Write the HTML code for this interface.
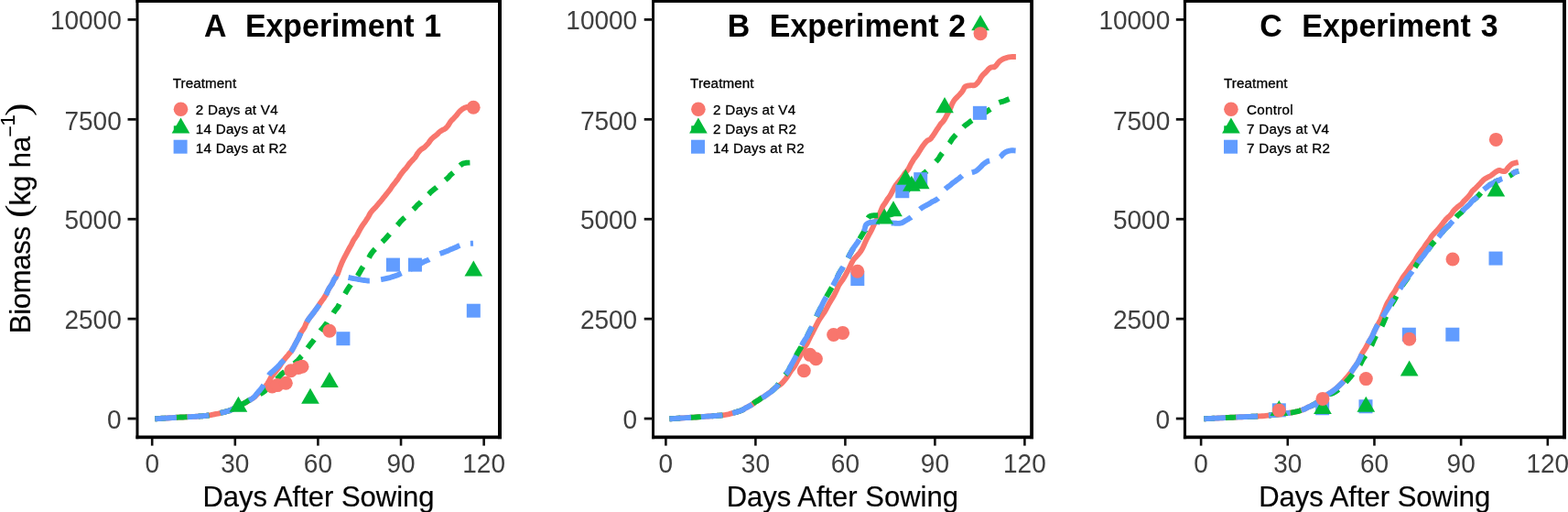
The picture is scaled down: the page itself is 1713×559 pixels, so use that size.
<!DOCTYPE html>
<html lang="en"><head><meta charset="utf-8"><title>Biomass by Days After Sowing</title>
<style>
html,body{margin:0;padding:0;background:#fff;}
body{width:1713px;height:559px;overflow:hidden;}
svg{display:block;font-family:"Liberation Sans",sans-serif;}
.tick{font-size:28px;fill:#3f3f3f;}
.atitle{font-size:31px;fill:#000;stroke:#000;stroke-width:0.2px;}
.ptitle{font-size:33.9px;font-weight:bold;fill:#000;word-spacing:1.4px;}
.ltitle{font-size:15.2px;fill:#000;letter-spacing:0.1px;stroke:#000;stroke-width:0.3px;}
.ltext{font-size:15.2px;fill:#000;letter-spacing:0.28px;stroke:#000;stroke-width:0.3px;}
.ln{fill:none;stroke-width:5.9;stroke-linejoin:round;stroke-linecap:butt;}
</style></head><body>
<svg width="1713" height="559" viewBox="0 0 1713 559" role="img" aria-label="Biomass versus days after sowing for three experiments">
<rect x="0" y="0" width="1713" height="559" fill="#ffffff"/>
<g>
<path class="ln" d="M169.30 457.30 L170.77 457.21 L172.59 457.09 L174.69 456.95 L176.98 456.79 L179.80 456.62 L182.77 456.44 L185.41 456.27 L187.94 456.10 L190.54 455.94 L192.92 455.80 L194.89 455.68 L197.17 455.56 L199.83 455.45 L202.11 455.35 L204.22 455.24 L206.46 455.14 L208.88 455.04 L210.59 454.93 L212.42 454.82 L214.32 454.70 L215.95 454.58 L217.50 454.46 L219.37 454.35 L221.12 454.23 L222.36 454.11 L223.56 453.98 L224.90 453.84 L226.29 453.68 L227.66 453.50 L229.06 453.30 L230.36 453.07 L231.44 452.82 L232.76 452.55 L234.55 452.26 L236.29 451.96 L237.91 451.65 L239.38 451.33 L240.45 451.02 L241.48 450.70 L242.96 450.40 L244.33 450.11 L245.41 449.84 L246.22 449.57 L247.00 449.30 L247.94 449.03 L249.09 448.74 L250.25 448.43 L251.34 448.10 L252.08 447.72 L252.87 447.30 L253.79 446.83 L254.98 446.31 L256.21 445.76 L257.46 445.17 L258.74 444.56 L259.99 443.94 L261.09 443.32 L262.18 442.70 L263.28 442.09 L264.39 441.50 L265.47 440.93 L266.56 440.38 L267.66 439.83 L268.73 439.28 L269.63 438.73 L270.47 438.18 L271.30 437.61 L272.35 437.03 L273.47 436.43 L274.56 435.80 L275.61 435.15 L276.61 434.49 L277.59 433.82 L278.51 433.13 L279.16 432.43 L279.81 431.72 L280.45 430.98 L281.20 430.24 L282.03 429.48 L282.86 428.70 L283.68 427.91 L284.62 427.12 L285.55 426.32 L286.48 425.51 L287.38 424.68 L288.18 423.82 L288.98 422.94 L289.78 422.03 L290.56 421.08 L291.29 420.10 L292.01 419.07 L292.73 417.98 L293.41 416.86 L294.04 415.70 L294.66 414.52 L295.29 413.33 L296.03 412.13 L296.93 410.94 L297.83 409.76 L298.76 408.60 L299.69 407.45 L300.63 406.29 L301.60 405.13 L302.56 403.97 L303.42 402.81 L304.29 401.65 L305.14 400.51 L305.86 399.39 L306.52 398.28 L307.15 397.20 L307.78 396.13 L308.63 395.07 L309.48 394.01 L310.30 392.96 L311.12 391.94 L311.96 390.93 L312.79 389.95 L313.60 389.00 L314.39 388.08 L315.07 387.20 L315.67 386.42 L316.22 385.76 L316.72 385.19 L317.21 384.66 L317.68 384.13 L318.12 383.56 L318.59 382.90 L319.09 382.12 L319.65 381.17 L320.28 380.00 L321.07 378.58 L321.94 376.93 L322.88 375.10 L323.94 373.14 L325.05 371.10 L326.16 369.03 L327.09 366.99 L327.97 365.02 L328.80 363.17 L329.90 361.50 L330.92 360.00 L331.84 358.62 L332.69 357.34 L333.21 356.11 L333.70 354.93 L334.20 353.76 L334.73 352.58 L335.34 351.36 L336.13 350.08 L337.02 348.70 L338.03 347.22 L339.21 345.66 L340.50 344.04 L341.81 342.38 L343.06 340.71 L344.30 339.05 L345.50 337.41 L346.65 335.83 L347.70 334.32 L348.62 332.90 L349.42 331.61 L350.14 330.43 L350.98 329.34 L351.77 328.30 L352.53 327.29 L353.29 326.27 L354.03 325.21 L354.70 324.08 L355.44 322.86 L356.25 321.50 L357.12 319.95 L357.87 318.20 L358.69 316.31 L359.78 314.34 L361.16 312.36 L362.51 310.41 L363.43 308.58 L364.21 306.90 L364.87 305.46 L365.59 304.30 L366.19 303.52 L366.52 303.11 L366.66 302.98 L366.67 303.02 L366.67 303.14 L366.67 303.24 L366.67 303.24 L366.67 303.03 L366.89 302.51 L367.41 301.60 L368.15 300.29 L369.04 298.67 L369.70 296.80 L370.43 294.75 L371.21 292.55 L372.09 290.27 L373.05 287.96 L374.02 285.68 L375.04 283.47 L376.10 281.40 L377.17 279.40 L378.24 277.38 L379.28 275.34 L380.35 273.31 L381.47 271.29 L382.61 269.31 L383.71 267.36 L384.64 265.47 L385.53 263.64 L386.46 261.90 L387.63 260.24 L388.76 258.65 L389.84 257.13 L390.61 255.66 L391.34 254.24 L392.05 252.84 L392.78 251.47 L393.56 250.12 L394.35 248.76 L395.15 247.40 L396.07 246.02 L397.07 244.63 L398.08 243.24 L399.08 241.87 L399.96 240.51 L400.82 239.19 L401.67 237.92 L402.44 236.71 L403.02 235.56 L403.58 234.50 L404.11 233.52 L404.64 232.63 L405.26 231.81 L405.86 231.04 L406.44 230.32 L407.00 229.63 L407.59 228.97 L408.26 228.32 L408.91 227.66 L409.56 227.00 L410.20 226.34 L410.82 225.70 L411.34 225.08 L411.83 224.48 L412.31 223.89 L412.79 223.31 L413.25 222.74 L413.72 222.16 L414.24 221.59 L414.77 221.00 L415.28 220.43 L415.73 219.91 L416.17 219.40 L416.59 218.90 L417.01 218.39 L417.43 217.86 L417.87 217.29 L418.36 216.67 L418.92 215.98 L419.55 215.20 L420.25 214.33 L420.98 213.39 L421.76 212.38 L422.59 211.33 L423.46 210.22 L424.38 209.09 L425.31 207.95 L426.20 206.79 L426.96 205.64 L427.70 204.50 L428.42 203.37 L429.30 202.23 L430.24 201.08 L431.17 199.91 L432.10 198.74 L432.98 197.55 L433.87 196.36 L434.78 195.15 L435.60 193.93 L436.38 192.70 L437.19 191.44 L438.09 190.12 L439.12 188.78 L440.16 187.41 L441.27 186.05 L442.50 184.70 L443.71 183.39 L444.78 182.12 L445.62 180.92 L446.41 179.80 L447.17 178.76 L448.01 177.78 L448.82 176.86 L449.62 175.99 L450.39 175.15 L451.18 174.34 L451.94 173.55 L452.67 172.77 L453.39 171.99 L453.95 171.20 L454.47 170.40 L454.96 169.60 L455.42 168.80 L455.86 168.01 L456.39 167.24 L456.97 166.49 L457.54 165.78 L458.12 165.10 L458.70 164.47 L459.31 163.90 L459.82 163.41 L460.28 163.00 L460.74 162.67 L461.20 162.38 L461.66 162.11 L462.13 161.84 L462.63 161.54 L463.15 161.20 L463.68 160.80 L464.22 160.30 L464.79 159.70 L465.46 159.01 L466.20 158.26 L466.95 157.46 L467.70 156.64 L468.41 155.82 L468.95 155.01 L469.47 154.24 L469.96 153.53 L470.42 152.90 L470.84 152.35 L471.33 151.88 L471.77 151.45 L472.18 151.06 L472.58 150.69 L472.99 150.32 L473.42 149.95 L473.90 149.54 L474.45 149.10 L475.10 148.60 L475.85 148.03 L476.70 147.39 L477.61 146.71 L478.27 146.00 L478.91 145.28 L479.56 144.57 L480.31 143.89 L481.28 143.26 L482.17 142.69 L482.96 142.20 L483.64 141.83 L484.10 141.58 L484.47 141.41 L484.81 141.29 L485.13 141.19 L485.46 141.07 L485.79 140.91 L486.17 140.66 L486.61 140.31 L487.17 139.80 L487.82 139.14 L488.52 138.36 L489.26 137.47 L489.94 136.51 L490.54 135.49 L491.15 134.44 L491.77 133.38 L492.63 132.34 L493.57 131.34 L494.49 130.40 L495.40 129.49 L496.26 128.56 L497.11 127.62 L497.97 126.68 L498.82 125.76 L499.50 124.87 L500.17 124.02 L500.81 123.21 L501.43 122.47 L502.07 121.80 L502.68 121.20 L503.25 120.66 L503.79 120.18 L504.31 119.74 L504.82 119.35 L505.33 118.99 L505.85 118.66 L506.39 118.36 L506.94 118.07 L507.53 117.80 L508.14 117.55 L508.79 117.32 L509.47 117.13 L510.15 116.96 L510.87 116.82 L511.63 116.70 L512.37 116.60 L513.06 116.52 L513.70 116.45 L514.19 116.40 L514.61 116.38 L515.00 116.39 L515.37 116.43 L515.72 116.49 L516.04 116.56 L516.33 116.64 L516.59 116.73 L516.82 116.80 L517.02 116.86 L517.20 116.90" stroke="#F8766D"/>
<path class="ln" d="M169.30 457.30 L170.77 457.21 L172.59 457.09 L174.69 456.95 L176.98 456.79 L179.80 456.62 L182.77 456.44 L185.41 456.27 L187.94 456.10 L190.54 455.94 L192.92 455.80 L194.89 455.68 L197.17 455.56 L199.83 455.45 L202.11 455.35 L204.22 455.24 L206.46 455.14 L208.88 455.04 L210.59 454.93 L212.42 454.82 L214.32 454.70 L215.95 454.58 L217.50 454.46 L219.37 454.35 L221.12 454.23 L222.36 454.11 L223.56 453.98 L224.90 453.84 L226.29 453.68 L227.66 453.50 L229.06 453.30 L230.36 453.07 L231.44 452.82 L232.76 452.55 L234.55 452.26 L236.29 451.96 L237.91 451.65 L239.38 451.33 L240.45 451.02 L241.48 450.70 L242.96 450.40 L244.33 450.11 L245.41 449.84 L246.22 449.57 L247.00 449.30 L247.94 449.03 L249.09 448.74 L250.25 448.43 L251.34 448.10 L252.08 447.72 L252.87 447.30 L253.79 446.83 L254.98 446.31 L256.21 445.76 L257.46 445.17 L258.74 444.56 L259.99 443.94 L261.09 443.32 L262.18 442.70 L263.28 442.09 L264.39 441.50 L265.48 440.92 L266.60 440.32 L267.73 439.71 L268.84 439.11 L269.74 438.51 L270.60 437.92 L271.44 437.35 L272.51 436.80 L273.57 436.28 L274.56 435.80 L275.46 435.37 L276.26 434.99 L276.99 434.65 L277.68 434.33 L278.34 434.03 L278.81 433.73 L279.26 433.42 L279.73 433.09 L280.22 432.72 L280.75 432.30 L281.48 431.85 L282.22 431.39 L282.97 430.91 L283.75 430.42 L284.66 429.91 L285.58 429.37 L286.52 428.80 L287.45 428.20 L288.28 427.57 L289.12 426.90 L289.98 426.18 L290.80 425.42 L291.60 424.61 L292.40 423.78 L293.21 422.91 L293.93 422.03 L294.65 421.14 L295.37 420.25 L296.27 419.37 L297.28 418.50 L298.29 417.63 L299.29 416.76 L300.27 415.87 L301.25 414.98 L302.24 414.09 L303.14 413.20 L304.02 412.31 L304.91 411.43 L305.72 410.56 L306.44 409.70 L307.17 408.86 L307.97 408.02 L309.02 407.20 L310.07 406.39 L311.13 405.57 L312.26 404.77 L313.39 403.96 L314.53 403.14 L315.50 402.33 L316.44 401.50 L317.40 400.67 L318.30 399.84 L319.18 399.00 L320.07 398.16 L321.04 397.32 L322.02 396.48 L322.98 395.64 L323.98 394.80 L324.95 393.95 L325.87 393.10 L326.65 392.25 L327.33 391.40 L327.97 390.55 L328.59 389.70 L329.33 388.84 L330.19 387.99 L331.04 387.12 L331.89 386.26 L332.73 385.38 L333.27 384.50 L333.79 383.65 L334.25 382.87 L334.69 382.12 L335.11 381.37 L335.66 380.59 L336.26 379.77 L336.91 378.87 L337.64 377.86 L338.51 376.71 L339.55 375.40 L340.76 373.91 L342.06 372.26 L343.39 370.47 L344.80 368.58 L346.24 366.61 L347.71 364.58 L349.12 362.53 L350.63 360.48 L352.44 358.46 L354.14 356.50 L355.55 354.58 L356.96 352.65 L358.00 350.72 L359.03 348.79 L360.64 346.84 L362.30 344.89 L363.54 342.92 L364.63 340.93 L366.08 338.93 L367.80 336.90 L369.34 334.82 L370.42 332.67 L371.50 330.47 L372.68 328.25 L373.85 326.02 L375.08 323.82 L376.36 321.67 L377.63 319.58 L378.77 317.58 L379.88 315.70 L380.99 313.98 L382.09 312.42 L383.15 310.98 L384.11 309.61 L384.99 308.27 L385.88 306.93 L387.08 305.52 L388.49 304.01 L389.95 302.35 L391.06 300.50 L392.23 298.43 L393.56 296.16 L394.97 293.75 L396.65 291.23 L398.49 288.66 L400.21 286.07 L401.88 283.51 L403.21 281.04 L404.43 278.68 L405.88 276.50 L407.38 274.47 L409.24 272.55 L411.08 270.71 L412.65 268.94 L414.31 267.22 L416.15 265.53 L417.91 263.87 L419.61 262.20 L421.20 260.52 L422.74 258.80 L424.30 257.07 L425.84 255.34 L427.16 253.63 L428.43 251.93 L430.05 250.22 L431.74 248.53 L433.34 246.83 L434.96 245.12 L436.36 243.42 L437.78 241.70 L439.50 239.97 L441.35 238.24 L443.47 236.49 L445.32 234.74 L446.91 232.99 L448.68 231.25 L450.50 229.52 L452.38 227.79 L454.09 226.09 L455.54 224.40 L457.36 222.73 L459.32 221.08 L460.84 219.44 L462.32 217.81 L463.89 216.19 L465.55 214.58 L467.42 212.98 L469.05 211.38 L470.46 209.79 L472.28 208.20 L474.29 206.60 L476.49 204.98 L478.37 203.36 L479.87 201.74 L482.19 200.14 L484.34 198.55 L486.04 197.00 L487.83 195.48 L489.59 194.01 L490.81 192.60 L491.94 191.21 L493.63 189.82 L495.24 188.44 L496.66 187.09 L497.98 185.79 L499.16 184.55 L500.11 183.40 L501.01 182.34 L501.88 181.40 L502.76 180.60 L503.55 179.95 L504.22 179.44 L504.81 179.06 L505.35 178.78 L505.83 178.57 L506.28 178.43 L506.71 178.32 L507.16 178.23 L507.63 178.13 L508.13 178.00 L508.69 177.87 L509.29 177.77 L509.89 177.71 L510.50 177.66 L511.14 177.64 L511.73 177.63 L512.27 177.62 L512.73 177.62 L513.11 177.61 L513.40 177.60" stroke="#00BA38" stroke-dasharray="0.00 0.00 11.80 11.66 11.80 12.36 11.80 12.36 11.80 12.36 11.80 12.36 11.80 12.94 11.80 13.78 11.80 10.68 11.80 11.76 11.80 12.33 11.80 12.77 11.80 12.14 11.80 11.59 11.80 10.90 11.80 12.81 11.80 12.84 11.80 11.73 11.80 12.30 11.80 10.81 11.80 9999.00"/>
<path class="ln" d="M169.30 457.30 L170.77 457.21 L172.59 457.09 L174.69 456.95 L176.98 456.79 L179.80 456.62 L182.77 456.44 L185.41 456.27 L187.94 456.10 L190.54 455.94 L192.92 455.80 L194.89 455.68 L197.17 455.56 L199.83 455.45 L202.11 455.35 L204.22 455.24 L206.46 455.14 L208.88 455.04 L210.59 454.93 L212.42 454.82 L214.32 454.70 L215.95 454.58 L217.50 454.46 L219.37 454.35 L221.12 454.23 L222.36 454.11 L223.56 453.98 L224.90 453.84 L226.29 453.68 L227.66 453.50 L229.06 453.30 L230.36 453.07 L231.44 452.82 L232.76 452.55 L234.55 452.26 L236.29 451.96 L237.91 451.65 L239.38 451.33 L240.45 451.02 L241.48 450.70 L242.96 450.40 L244.33 450.11 L245.41 449.84 L246.22 449.57 L247.00 449.30 L247.94 449.03 L249.09 448.74 L250.25 448.43 L251.34 448.10 L252.08 447.72 L252.87 447.30 L253.79 446.83 L254.98 446.31 L256.21 445.76 L257.46 445.17 L258.74 444.56 L259.99 443.94 L261.09 443.32 L262.18 442.70 L263.28 442.09 L264.39 441.50 L265.47 440.94 L266.57 440.40 L267.66 439.87 L268.74 439.35 L269.64 438.82 L270.48 438.28 L271.31 437.71 L272.36 437.12 L273.47 436.48 L274.56 435.80 L275.62 435.06 L276.65 434.25 L277.67 433.40 L278.59 432.52 L279.28 431.62 L279.94 430.71 L280.57 429.81 L281.32 428.94 L282.07 428.09 L282.76 427.30 L283.39 426.55 L284.00 425.82 L284.62 425.11 L285.19 424.42 L285.73 423.74 L286.23 423.08 L286.71 422.43 L287.18 421.78 L287.59 421.14 L288.00 420.50 L288.40 419.86 L288.77 419.23 L289.13 418.60 L289.48 417.98 L289.81 417.38 L290.13 416.78 L290.44 416.19 L290.72 415.61 L291.00 415.05 L291.29 414.50 L291.56 413.97 L291.81 413.45 L292.06 412.95 L292.30 412.46 L292.53 411.99 L292.77 411.52 L293.03 411.06 L293.28 410.60 L293.53 410.15 L293.80 409.70 L294.10 409.25 L294.42 408.82 L294.75 408.39 L295.10 407.97 L295.45 407.55 L295.87 407.14 L296.38 406.73 L296.88 406.32 L297.37 405.91 L297.85 405.50 L298.31 405.09 L298.77 404.69 L299.23 404.29 L299.67 403.89 L300.11 403.49 L300.54 403.09 L300.98 402.69 L301.42 402.30 L301.86 401.90 L302.30 401.50 L302.70 401.10 L303.09 400.70 L303.48 400.30 L303.87 399.90 L304.26 399.49 L304.66 399.09 L305.05 398.69 L305.42 398.29 L305.74 397.90 L306.05 397.50 L306.36 397.12 L306.67 396.75 L306.98 396.40 L307.29 396.05 L307.59 395.70 L307.97 395.34 L308.41 394.95 L308.87 394.54 L309.33 394.09 L309.80 393.60 L310.28 393.06 L310.76 392.49 L311.26 391.89 L311.78 391.26 L312.31 390.61 L312.86 389.94 L313.41 389.26 L313.98 388.57 L314.56 387.88 L315.07 387.20 L315.57 386.56 L316.05 385.99 L316.54 385.45 L317.03 384.92 L317.54 384.36 L318.02 383.73 L318.52 383.02 L319.05 382.18 L319.64 381.18 L320.28 380.00 L321.07 378.58 L321.94 376.93 L322.88 375.10 L323.94 373.14 L325.05 371.10 L326.16 369.03 L327.09 366.99 L327.97 365.02 L328.80 363.17 L329.90 361.50 L330.92 360.00 L331.84 358.62 L332.69 357.34 L333.21 356.11 L333.70 354.93 L334.20 353.76 L334.73 352.58 L335.34 351.36 L336.13 350.08 L337.02 348.70 L338.03 347.22 L339.21 345.66 L340.50 344.04 L341.81 342.38 L343.06 340.71 L344.30 339.05 L345.50 337.41 L346.65 335.83 L347.70 334.32 L348.62 332.90 L349.42 331.61 L350.14 330.43 L350.98 329.34 L351.77 328.30 L352.53 327.29 L353.29 326.27 L354.03 325.21 L354.70 324.08 L355.44 322.86 L356.25 321.50 L357.12 319.95 L357.87 318.20 L358.69 316.31 L359.78 314.34 L361.16 312.36 L362.51 310.41 L363.43 308.58 L364.21 306.90 L364.87 305.46 L365.59 304.30 L366.23 303.43 L366.66 302.80 L366.94 302.36 L367.09 302.08 L367.16 301.92 L367.17 301.84 L367.17 301.81 L367.18 301.78 L367.25 301.72 L367.41 301.60 L367.62 301.44 L367.82 301.31 L368.02 301.20 L368.22 301.11 L368.44 301.04 L368.68 300.98 L368.95 300.94 L369.18 300.92 L369.41 300.90 L369.68 300.90 L369.97 300.91 L370.30 300.94 L370.65 300.99 L371.02 301.05 L371.42 301.12 L371.86 301.20 L372.35 301.29 L372.86 301.39 L373.38 301.50 L373.93 301.60 L374.48 301.71 L375.09 301.83 L375.72 301.95 L376.37 302.08 L377.05 302.22 L377.76 302.36 L378.43 302.51 L379.15 302.67 L379.91 302.83 L380.75 303.00 L381.69 303.18 L382.71 303.37 L383.76 303.57 L384.71 303.78 L385.69 303.99 L386.92 304.20 L388.40 304.41 L389.88 304.62 L390.92 304.81 L391.93 305.00 L392.96 305.19 L394.07 305.40 L395.18 305.61 L396.49 305.82 L397.87 306.02 L399.24 306.20 L400.48 306.36 L401.73 306.48 L402.80 306.57 L403.73 306.60 L404.71 306.58 L405.91 306.52 L407.13 306.41 L408.58 306.28 L410.10 306.11 L411.49 305.93 L412.74 305.73 L414.00 305.52 L415.40 305.31 L416.75 305.10 L418.01 304.89 L419.24 304.67 L420.42 304.44 L421.53 304.20 L422.62 303.94 L423.73 303.68 L424.84 303.40 L425.94 303.11 L426.88 302.81 L427.78 302.50 L428.69 302.18 L429.82 301.85 L430.93 301.51 L432.01 301.16 L433.02 300.79 L434.03 300.41 L435.06 300.02 L435.94 299.60 L436.83 299.16 L437.78 298.70 L438.94 298.21 L440.13 297.69 L441.46 297.14 L442.94 296.57 L444.43 295.99 L445.55 295.39 L446.65 294.79 L447.80 294.19 L448.99 293.59 L450.16 293.00 L451.35 292.40 L452.54 291.79 L453.66 291.16 L454.59 290.53 L455.50 289.89 L456.55 289.27 L457.77 288.66 L458.96 288.08 L459.98 287.52 L460.85 287.00 L461.67 286.53 L462.49 286.10 L463.30 285.71 L464.09 285.34 L464.87 284.99 L465.77 284.63 L466.71 284.27 L467.67 283.88 L468.58 283.46 L469.36 283.00 L470.17 282.49 L471.10 281.93 L472.28 281.34 L473.47 280.73 L474.73 280.11 L476.03 279.49 L477.34 278.88 L478.31 278.29 L479.16 277.72 L480.00 277.20 L481.31 276.72 L482.63 276.27 L483.89 275.85 L484.85 275.45 L485.82 275.06 L486.83 274.67 L487.93 274.28 L489.05 273.87 L490.04 273.45 L490.89 273.00 L491.77 272.51 L493.08 271.98 L494.55 271.43 L495.99 270.86 L497.33 270.29 L498.64 269.74 L499.72 269.21 L500.70 268.72 L501.62 268.28 L502.56 267.90 L503.40 267.59 L504.14 267.32 L504.82 267.10 L505.46 266.92 L506.06 266.76 L506.64 266.63 L507.22 266.51 L507.82 266.41 L508.44 266.31 L509.13 266.20 L509.90 266.10 L510.77 266.02 L511.78 265.95 L512.82 265.89 L513.81 265.84 L514.61 265.81 L515.34 265.78 L516.01 265.75 L516.57 265.72 L517.00 265.70" stroke="#619CFF" stroke-dasharray="0.00 0.00 23.60 11.89 23.60 12.74 23.60 10.91 23.60 11.81 23.60 11.62 23.60 13.36 23.60 12.58 23.60 13.47 23.60 12.39 23.60 10.43 23.60 13.10 23.60 11.80 23.60 9999.00"/>
<rect x="367.40" y="362.20" width="15.00" height="15.00" fill="#619CFF"/>
<rect x="421.92" y="281.61" width="15.00" height="15.00" fill="#619CFF"/>
<rect x="445.93" y="281.61" width="15.00" height="15.00" fill="#619CFF"/>
<rect x="509.81" y="331.71" width="15.00" height="15.00" fill="#619CFF"/>
<polygon points="260.43,432.63 270.26,449.66 250.60,449.66" fill="#00BA38"/>
<polygon points="338.96,423.70 348.79,440.73 329.13,440.73" fill="#00BA38"/>
<polygon points="359.95,406.05 369.78,423.08 350.12,423.08" fill="#00BA38"/>
<polygon points="517.31,284.51 527.14,301.54 507.48,301.54" fill="#00BA38"/>
<circle cx="297.30" cy="422.00" r="7.50" fill="#F8766D"/>
<circle cx="303.00" cy="420.60" r="7.50" fill="#F8766D"/>
<circle cx="312.30" cy="418.20" r="7.50" fill="#F8766D"/>
<circle cx="317.80" cy="404.80" r="7.50" fill="#F8766D"/>
<circle cx="326.00" cy="401.50" r="7.50" fill="#F8766D"/>
<circle cx="330.00" cy="400.20" r="7.50" fill="#F8766D"/>
<circle cx="359.95" cy="361.21" r="7.50" fill="#F8766D"/>
<circle cx="517.16" cy="117.24" r="7.50" fill="#F8766D"/>
<rect x="148.50" y="0.00" width="3.00" height="479.20" fill="#000"/>
<rect x="544.00" y="0.00" width="4.00" height="479.20" fill="#000"/>
<rect x="148.50" y="0.00" width="399.50" height="2.90" fill="#000"/>
<rect x="148.50" y="475.50" width="399.50" height="3.70" fill="#000"/>
<line x1="139.50" y1="457.05" x2="148.80" y2="457.05" stroke="#111" stroke-width="2.8"/>
<text class="tick" transform="translate(132.70 467.90) scale(1.0 1.03)" text-anchor="end">0</text>
<line x1="139.50" y1="348.14" x2="148.80" y2="348.14" stroke="#111" stroke-width="2.8"/>
<text class="tick" transform="translate(132.70 358.99) scale(1.0 1.03)" text-anchor="end">2500</text>
<line x1="139.50" y1="239.23" x2="148.80" y2="239.23" stroke="#111" stroke-width="2.8"/>
<text class="tick" transform="translate(132.70 250.08) scale(1.0 1.03)" text-anchor="end">5000</text>
<line x1="139.50" y1="130.31" x2="148.80" y2="130.31" stroke="#111" stroke-width="2.8"/>
<text class="tick" transform="translate(132.70 141.71) scale(1.0 1.03)" text-anchor="end">7500</text>
<line x1="139.50" y1="21.40" x2="148.80" y2="21.40" stroke="#111" stroke-width="2.8"/>
<text class="tick" transform="translate(132.70 32.25) scale(1.0 1.03)" text-anchor="end">10000</text>
<line x1="166.20" y1="478.90" x2="166.20" y2="486.60" stroke="#111" stroke-width="2.6"/>
<text class="tick" transform="translate(166.20 515.60) scale(1.0 1.03)" text-anchor="middle">0</text>
<line x1="256.81" y1="478.90" x2="256.81" y2="486.60" stroke="#111" stroke-width="2.6"/>
<text class="tick" transform="translate(256.81 515.60) scale(1.0 1.03)" text-anchor="middle">30</text>
<line x1="347.42" y1="478.90" x2="347.42" y2="486.60" stroke="#111" stroke-width="2.6"/>
<text class="tick" transform="translate(347.42 515.60) scale(1.0 1.03)" text-anchor="middle">60</text>
<line x1="438.03" y1="478.90" x2="438.03" y2="486.60" stroke="#111" stroke-width="2.6"/>
<text class="tick" transform="translate(438.03 515.60) scale(1.0 1.03)" text-anchor="middle">90</text>
<line x1="528.64" y1="478.90" x2="528.64" y2="486.60" stroke="#111" stroke-width="2.6"/>
<text class="tick" transform="translate(528.64 515.60) scale(1.0 1.03)" text-anchor="middle">120</text>
<text class="atitle" transform="translate(348.00 552.90) scale(1.0 1.03)" text-anchor="middle">Days After Sowing</text>
<text class="ptitle" transform="translate(352.60 39.70) scale(1.0 1.02)" text-anchor="middle" xml:space="preserve">A  Experiment 1</text>
<text class="ltitle" x="188.70" y="96.20">Treatment</text>
<rect x="189.80" y="137.30" width="4.5" height="5.0" fill="#00BA38"/>
<circle cx="197.50" cy="119.20" r="7.80" fill="#F8766D"/>
<polygon points="197.50,128.55 207.33,145.58 187.67,145.58" fill="#00BA38"/>
<rect x="189.60" y="152.70" width="15.00" height="15.00" fill="#619CFF"/>
<text class="ltext" x="213.70" y="125.10">2 Days at V4</text>
<text class="ltext" x="213.70" y="145.70">14 Days at V4</text>
<text class="ltext" x="213.70" y="166.80">14 Days at R2</text>
</g>
<g>
<path class="ln" d="M731.40 457.30 L732.91 457.20 L734.95 457.07 L737.46 456.91 L740.75 456.73 L743.40 456.54 L746.45 456.35 L749.55 456.15 L752.57 455.95 L755.40 455.77 L757.90 455.60 L760.20 455.44 L762.94 455.29 L765.31 455.13 L767.40 454.98 L769.20 454.83 L771.54 454.68 L773.87 454.54 L775.83 454.39 L777.83 454.25 L779.83 454.10 L781.36 453.97 L782.71 453.86 L784.36 453.75 L785.98 453.66 L787.32 453.56 L788.48 453.44 L789.64 453.31 L790.97 453.14 L792.32 452.94 L793.72 452.70 L795.15 452.41 L796.55 452.08 L797.87 451.72 L799.23 451.34 L800.71 450.92 L802.18 450.50 L803.76 450.06 L805.29 449.61 L806.79 449.15 L808.23 448.70 L809.54 448.25 L810.54 447.79 L811.48 447.32 L812.38 446.84 L813.22 446.36 L814.03 445.86 L814.84 445.34 L815.77 444.81 L816.84 444.27 L817.94 443.70 L819.06 443.11 L820.14 442.49 L821.22 441.86 L822.30 441.20 L823.11 440.54 L823.89 439.86 L824.66 439.19 L825.73 438.52 L826.93 437.85 L828.12 437.20 L829.16 436.56 L829.98 435.94 L830.81 435.32 L831.70 434.70 L832.82 434.09 L833.93 433.46 L835.04 432.83 L835.98 432.17 L836.90 431.50 L837.82 430.80 L838.87 430.05 L840.02 429.24 L841.18 428.40 L842.28 427.53 L843.25 426.66 L844.20 425.81 L845.13 424.99 L846.03 424.22 L846.89 423.51 L847.69 422.90 L848.42 422.39 L849.02 421.97 L849.56 421.62 L850.06 421.32 L850.54 421.05 L851.00 420.80 L851.44 420.53 L851.93 420.24 L852.43 419.90 L852.95 419.50 L853.48 419.04 L854.00 418.56 L854.51 418.05 L855.02 417.52 L855.53 416.98 L856.03 416.41 L856.53 415.83 L857.03 415.23 L857.53 414.62 L858.03 414.00 L858.52 413.36 L859.02 412.70 L859.51 412.01 L860.00 411.31 L860.48 410.59 L860.97 409.87 L861.44 409.15 L861.87 408.42 L862.31 407.71 L862.76 407.00 L863.20 406.31 L863.65 405.63 L864.09 404.95 L864.62 404.28 L865.18 403.60 L865.74 402.92 L866.29 402.22 L866.83 401.50 L867.37 400.76 L867.90 400.00 L868.37 399.20 L868.83 398.38 L869.28 397.53 L869.73 396.67 L870.18 395.79 L870.62 394.90 L871.07 394.02 L871.56 393.13 L872.06 392.26 L872.57 391.40 L873.06 390.56 L873.53 389.75 L873.99 388.95 L874.44 388.15 L874.88 387.35 L875.20 386.54 L875.53 385.70 L875.88 384.84 L876.25 383.94 L876.65 383.00 L877.08 382.00 L877.61 380.95 L878.37 379.86 L879.16 378.74 L879.96 377.60 L880.77 376.45 L881.53 375.31 L882.10 374.18 L882.65 373.07 L883.18 372.00 L883.68 370.96 L884.15 369.94 L884.65 368.94 L885.16 367.95 L885.67 366.97 L886.17 365.99 L886.68 365.01 L887.20 364.02 L887.72 363.02 L888.23 362.00 L888.77 360.95 L889.32 359.86 L889.90 358.74 L890.48 357.62 L891.05 356.50 L891.61 355.40 L892.15 354.33 L892.67 353.32 L893.16 352.37 L893.62 351.50 L894.06 350.71 L894.48 350.00 L894.89 349.34 L895.27 348.74 L895.63 348.17 L895.99 347.63 L896.34 347.10 L896.70 346.58 L897.06 346.05 L897.41 345.50 L897.75 344.97 L898.09 344.47 L898.42 344.01 L898.75 343.56 L899.08 343.11 L899.42 342.64 L899.76 342.14 L900.12 341.59 L900.54 340.98 L900.99 340.30 L901.45 339.54 L901.93 338.71 L902.41 337.82 L902.91 336.88 L903.42 335.92 L903.93 334.93 L904.46 333.93 L904.99 332.94 L905.52 331.96 L906.06 331.00 L906.60 330.06 L907.16 329.14 L907.71 328.21 L908.27 327.29 L908.84 326.36 L909.42 325.42 L910.00 324.47 L910.59 323.50 L911.11 322.51 L911.63 321.50 L912.15 320.45 L912.68 319.36 L913.22 318.25 L913.77 317.11 L914.30 315.97 L914.82 314.83 L915.34 313.70 L915.86 312.60 L916.37 311.53 L916.98 310.50 L917.65 309.53 L918.31 308.60 L918.96 307.72 L919.61 306.85 L920.24 306.00 L920.82 305.15 L921.35 304.28 L921.89 303.40 L922.44 302.47 L923.00 301.50 L923.58 300.46 L924.20 299.35 L924.83 298.19 L925.47 297.00 L926.11 295.81 L926.74 294.64 L927.32 293.50 L927.83 292.41 L928.31 291.41 L928.75 290.50 L929.14 289.69 L929.49 288.96 L929.80 288.30 L930.10 287.69 L930.39 287.12 L930.67 286.58 L930.95 286.06 L931.23 285.55 L931.53 285.03 L931.86 284.50 L932.19 283.97 L932.53 283.46 L932.87 282.97 L933.27 282.49 L933.71 282.02 L934.14 281.56 L934.59 281.09 L935.05 280.61 L935.52 280.11 L936.00 279.60 L936.50 279.07 L936.98 278.54 L937.43 278.00 L937.89 277.45 L938.35 276.90 L938.82 276.34 L939.28 275.77 L939.72 275.19 L940.15 274.60 L940.55 274.00 L940.92 273.40 L941.28 272.81 L941.61 272.23 L941.94 271.63 L942.26 271.02 L942.57 270.40 L942.90 269.74 L943.23 269.04 L943.57 268.30 L943.94 267.50 L944.33 266.63 L944.75 265.68 L945.18 264.67 L945.63 263.61 L946.08 262.54 L946.63 261.46 L947.17 260.40 L947.70 259.37 L948.21 258.40 L948.69 257.50 L949.15 256.67 L949.59 255.89 L949.99 255.15 L950.36 254.44 L950.72 253.76 L951.08 253.09 L951.43 252.42 L951.78 251.76 L952.13 251.09 L952.48 250.40 L952.82 249.70 L953.15 249.02 L953.45 248.33 L953.75 247.65 L954.05 246.98 L954.35 246.29 L954.65 245.61 L954.97 244.92 L955.30 244.21 L955.64 243.50 L956.01 242.79 L956.40 242.09 L956.82 241.39 L957.24 240.69 L957.68 239.97 L958.12 239.24 L958.56 238.49 L959.00 237.70 L959.44 236.87 L959.88 236.00 L960.33 235.05 L960.78 234.01 L961.23 232.91 L961.68 231.78 L962.13 230.62 L962.58 229.48 L963.03 228.38 L963.47 227.33 L963.91 226.36 L964.34 225.50 L964.77 224.75 L965.20 224.08 L965.63 223.48 L966.05 222.94 L966.43 222.44 L966.75 221.96 L967.07 221.49 L967.39 221.02 L967.70 220.53 L968.01 220.00 L968.31 219.46 L968.60 218.93 L968.88 218.41 L969.25 217.90 L969.65 217.38 L970.04 216.84 L970.45 216.30 L970.87 215.73 L971.30 215.13 L971.75 214.50 L972.21 213.84 L972.66 213.18 L973.04 212.49 L973.40 211.79 L973.76 211.06 L974.14 210.31 L974.55 209.53 L974.98 208.72 L975.45 207.88 L975.95 207.00 L976.46 206.06 L977.02 205.07 L977.61 204.02 L978.23 202.94 L978.95 201.84 L979.81 200.73 L980.68 199.63 L981.54 198.55 L982.38 197.50 L983.16 196.50 L983.94 195.55 L984.71 194.64 L985.48 193.75 L986.14 192.88 L986.71 192.02 L987.28 191.17 L987.84 190.31 L988.40 189.43 L989.18 188.53 L989.99 187.60 L990.79 186.64 L991.58 185.66 L992.37 184.66 L992.89 183.64 L993.41 182.62 L993.92 181.59 L994.43 180.56 L994.93 179.53 L995.53 178.51 L996.12 177.50 L996.72 176.49 L997.31 175.46 L997.89 174.43 L998.61 173.40 L999.39 172.37 L1000.16 171.35 L1000.93 170.35 L1001.68 169.37 L1002.39 168.42 L1002.94 167.50 L1003.48 166.61 L1004.02 165.74 L1004.56 164.88 L1005.09 164.05 L1005.61 163.23 L1006.11 162.44 L1006.61 161.67 L1007.09 160.92 L1007.57 160.20 L1008.04 159.50 L1008.51 158.83 L1009.01 158.17 L1009.49 157.55 L1009.96 156.94 L1010.43 156.36 L1010.89 155.80 L1011.36 155.26 L1011.83 154.75 L1012.33 154.26 L1012.85 153.80 L1013.37 153.40 L1013.89 153.10 L1014.41 152.85 L1014.94 152.63 L1015.43 152.43 L1015.83 152.19 L1016.23 151.91 L1016.65 151.56 L1017.08 151.09 L1017.53 150.50 L1018.01 149.76 L1018.68 148.91 L1019.38 147.95 L1020.08 146.93 L1020.81 145.84 L1021.55 144.73 L1022.22 143.61 L1022.90 142.50 L1023.58 141.42 L1024.28 140.40 L1024.99 139.42 L1025.59 138.45 L1026.21 137.49 L1026.84 136.53 L1027.48 135.58 L1028.35 134.62 L1029.25 133.67 L1030.11 132.72 L1030.93 131.76 L1031.64 130.80 L1032.22 129.84 L1032.76 128.88 L1033.27 127.93 L1033.76 126.98 L1034.23 126.02 L1034.74 125.06 L1035.26 124.09 L1035.78 123.11 L1036.32 122.11 L1036.87 121.10 L1037.45 120.04 L1038.00 118.92 L1038.47 117.76 L1038.94 116.58 L1039.41 115.41 L1039.87 114.27 L1040.31 113.17 L1040.82 112.15 L1041.37 111.22 L1041.88 110.40 L1042.33 109.73 L1042.71 109.18 L1043.04 108.74 L1043.34 108.37 L1043.62 108.05 L1043.91 107.74 L1044.23 107.42 L1044.59 107.06 L1045.02 106.63 L1045.53 106.10 L1046.13 105.46 L1046.83 104.75 L1047.60 103.98 L1048.36 103.17 L1049.09 102.34 L1049.82 101.51 L1050.53 100.70 L1051.20 99.93 L1051.65 99.23 L1052.04 98.60 L1052.35 98.04 L1052.62 97.52 L1052.85 97.03 L1053.05 96.58 L1053.24 96.16 L1053.42 95.78 L1053.62 95.42 L1053.93 95.09 L1054.29 94.78 L1054.72 94.50 L1055.21 94.25 L1055.75 94.04 L1056.32 93.87 L1056.92 93.73 L1057.51 93.61 L1058.08 93.51 L1058.66 93.43 L1059.21 93.35 L1059.75 93.28 L1060.25 93.20 L1060.77 93.15 L1061.30 93.14 L1061.81 93.17 L1062.31 93.20 L1062.80 93.24 L1063.28 93.27 L1063.76 93.26 L1064.24 93.21 L1064.68 93.09 L1065.12 92.90 L1065.57 92.63 L1066.02 92.30 L1066.48 91.91 L1066.94 91.47 L1067.40 91.01 L1067.84 90.51 L1068.26 90.01 L1068.67 89.50 L1069.07 88.99 L1069.45 88.50 L1069.79 88.03 L1070.09 87.57 L1070.35 87.11 L1070.60 86.64 L1070.85 86.16 L1071.10 85.66 L1071.38 85.14 L1071.71 84.57 L1072.11 83.96 L1072.59 83.30 L1073.19 82.55 L1073.94 81.68 L1074.93 80.74 L1075.99 79.76 L1077.08 78.76 L1077.96 77.78 L1078.73 76.86 L1079.44 76.01 L1080.09 75.28 L1080.86 74.70 L1081.47 74.26 L1081.98 73.94 L1082.40 73.72 L1082.74 73.58 L1083.04 73.49 L1083.31 73.45 L1083.57 73.43 L1083.83 73.41 L1084.03 73.37 L1084.25 73.30 L1084.49 73.24 L1084.72 73.24 L1084.94 73.28 L1085.17 73.33 L1085.40 73.38 L1085.64 73.40 L1085.90 73.38 L1086.16 73.28 L1086.53 73.10 L1086.98 72.80 L1087.47 72.37 L1087.97 71.80 L1088.49 71.14 L1089.03 70.40 L1089.60 69.62 L1090.23 68.83 L1090.90 68.05 L1091.59 67.32 L1092.31 66.66 L1093.05 66.10 L1093.78 65.63 L1094.40 65.20 L1095.06 64.81 L1095.74 64.45 L1096.44 64.13 L1097.24 63.84 L1098.02 63.57 L1098.77 63.33 L1099.48 63.11 L1100.14 62.90 L1100.74 62.72 L1101.29 62.58 L1101.80 62.46 L1102.28 62.37 L1102.73 62.31 L1103.15 62.25 L1103.54 62.21 L1103.93 62.18 L1104.33 62.14 L1104.76 62.10 L1105.22 62.06 L1105.73 62.03 L1106.31 62.02 L1106.93 62.00 L1107.54 62.00 L1108.12 62.00 L1108.67 62.00 L1109.16 62.00 L1109.58 62.00 L1109.90 62.00" stroke="#F8766D"/>
<path class="ln" d="M731.40 457.30 L732.91 457.20 L734.95 457.07 L737.46 456.91 L740.75 456.73 L743.40 456.54 L746.45 456.35 L749.55 456.15 L752.57 455.95 L755.40 455.77 L757.90 455.60 L760.20 455.44 L762.94 455.29 L765.31 455.13 L767.40 454.98 L769.20 454.83 L771.54 454.68 L773.87 454.54 L775.83 454.39 L777.83 454.25 L779.83 454.10 L781.36 453.97 L782.71 453.86 L784.36 453.75 L785.98 453.66 L787.32 453.56 L788.48 453.44 L789.64 453.31 L790.97 453.14 L792.32 452.94 L793.72 452.70 L795.15 452.41 L796.55 452.08 L797.87 451.72 L799.23 451.34 L800.71 450.92 L802.18 450.50 L803.76 450.06 L805.29 449.61 L806.79 449.15 L808.23 448.70 L809.54 448.25 L810.54 447.79 L811.48 447.32 L812.38 446.84 L813.22 446.36 L814.03 445.86 L814.84 445.34 L815.77 444.81 L816.84 444.27 L817.94 443.70 L819.06 443.11 L820.14 442.49 L821.22 441.86 L822.30 441.20 L823.11 440.54 L823.89 439.86 L824.66 439.19 L825.73 438.52 L826.93 437.85 L828.12 437.20 L829.16 436.56 L829.98 435.94 L830.81 435.32 L831.70 434.70 L832.82 434.09 L833.93 433.46 L835.04 432.83 L835.98 432.17 L836.90 431.50 L837.82 430.80 L838.86 430.08 L839.98 429.35 L841.10 428.60 L842.18 427.84 L843.13 427.07 L844.06 426.28 L844.98 425.46 L845.90 424.63 L846.81 423.78 L847.69 422.90 L848.54 421.98 L849.27 421.03 L849.98 420.03 L850.68 419.02 L851.35 417.99 L852.08 416.96 L852.81 415.93 L853.52 414.92 L854.23 413.94 L854.94 413.00 L855.63 412.10 L856.32 411.24 L856.99 410.41 L857.66 409.60 L858.31 408.79 L858.95 407.98 L859.58 407.15 L860.20 406.31 L860.82 405.42 L861.40 404.50 L861.94 403.53 L862.46 402.52 L862.97 401.49 L863.46 400.43 L863.96 399.36 L864.50 398.28 L865.10 397.20 L865.70 396.12 L866.29 395.05 L866.89 394.00 L867.48 392.97 L868.03 391.96 L868.53 390.96 L869.02 389.96 L869.51 388.96 L870.01 387.95 L870.52 386.92 L871.05 385.88 L871.67 384.81 L872.34 383.70 L873.04 382.56 L873.76 381.40 L874.52 380.22 L875.15 379.02 L875.69 377.80 L876.24 376.56 L876.79 375.32 L877.35 374.05 L878.18 372.78 L879.04 371.50 L879.90 370.21 L880.77 368.92 L881.58 367.63 L882.22 366.32 L882.87 364.99 L883.52 363.65 L884.17 362.28 L884.90 360.89 L885.66 359.46 L886.41 358.00 L887.18 356.47 L887.96 354.86 L888.71 353.18 L889.47 351.47 L890.23 349.76 L890.97 348.05 L891.67 346.39 L892.35 344.80 L893.00 343.29 L893.62 341.90 L894.22 340.63 L894.81 339.45 L895.36 338.35 L895.89 337.31 L896.40 336.32 L896.91 335.36 L897.38 334.41 L897.84 333.46 L898.30 332.50 L898.77 331.50 L899.26 330.49 L899.74 329.48 L900.24 328.49 L900.82 327.50 L901.40 326.51 L901.98 325.52 L902.56 324.52 L903.15 323.53 L903.73 322.52 L904.33 321.50 L904.93 320.46 L905.54 319.41 L906.15 318.34 L906.76 317.26 L907.38 316.18 L907.99 315.11 L908.60 314.05 L909.20 313.01 L909.80 311.99 L910.38 311.00 L910.93 310.04 L911.42 309.08 L911.92 308.14 L912.41 307.22 L912.89 306.31 L913.37 305.42 L913.83 304.56 L914.25 303.71 L914.66 302.89 L915.04 302.10 L915.38 301.38 L915.67 300.76 L915.91 300.21 L916.14 299.70 L916.37 299.18 L916.63 298.63 L917.01 298.01 L917.46 297.29 L918.01 296.43 L918.68 295.40 L919.46 294.19 L920.34 292.83 L921.16 291.34 L922.00 289.74 L922.89 288.08 L923.81 286.37 L924.75 284.64 L925.70 282.92 L926.64 281.23 L927.52 279.60 L928.36 277.98 L929.26 276.30 L930.20 274.60 L931.21 272.88 L932.21 271.18 L933.26 269.51 L934.46 267.90 L935.59 266.36 L936.65 264.92 L937.48 263.60 L938.20 262.39 L938.88 261.26 L939.51 260.22 L940.09 259.24 L940.63 258.33 L941.13 257.48 L941.61 256.67 L942.06 255.92 L942.50 255.19 L942.92 254.50 L943.32 253.87 L943.68 253.35 L944.02 252.89 L944.34 252.49 L944.63 252.12 L944.90 251.76 L945.15 251.39 L945.38 250.99 L945.60 250.53 L945.80 250.00 L945.97 249.39 L946.12 248.71 L946.26 247.99 L946.38 247.24 L946.47 246.47 L946.55 245.70 L946.63 244.96 L946.70 244.25 L946.78 243.59 L946.88 243.00 L946.97 242.47 L947.05 241.99 L947.11 241.54 L947.18 241.13 L947.24 240.74 L947.32 240.37 L947.40 240.02 L947.50 239.68 L947.63 239.34 L947.78 239.00 L947.96 238.66 L948.15 238.33 L948.35 238.01 L948.57 237.70 L948.81 237.41 L949.06 237.13 L949.33 236.86 L949.63 236.62 L949.92 236.40 L950.23 236.20 L950.56 236.03 L950.91 235.89 L951.28 235.77 L951.67 235.66 L952.08 235.58 L952.51 235.51 L952.94 235.45 L953.37 235.40 L953.79 235.35 L954.23 235.30 L954.66 235.26 L955.11 235.23 L955.57 235.21 L956.04 235.21 L956.55 235.21 L957.08 235.21 L957.62 235.21 L958.19 235.21 L958.77 235.21 L959.37 235.20 L960.01 235.19 L960.68 235.17 L961.39 235.16 L962.11 235.14 L962.84 235.12 L963.58 235.11 L964.31 235.09 L965.03 235.06 L965.74 235.03 L966.39 235.00 L966.90 234.97 L967.40 234.95 L967.90 234.94 L968.39 234.92 L968.87 234.89 L969.54 234.86 L970.23 234.81 L970.93 234.73 L971.64 234.63 L972.35 234.50 L973.02 234.34 L973.59 234.17 L974.17 233.98 L974.75 233.76 L975.33 233.53 L975.90 233.28 L976.41 233.00 L976.91 232.69 L977.38 232.36 L977.82 232.00 L978.24 231.61 L978.63 231.19 L979.12 230.75 L979.58 230.28 L980.03 229.78 L980.46 229.26 L980.87 228.73 L981.28 228.17 L981.67 227.59 L982.07 227.00 L982.45 226.38 L982.80 225.73 L983.13 225.05 L983.46 224.34 L983.77 223.62 L984.09 222.90 L984.39 222.16 L984.70 221.43 L985.02 220.71 L985.34 220.00 L985.66 219.29 L985.95 218.58 L986.18 217.85 L986.42 217.13 L986.65 216.41 L986.89 215.69 L987.13 214.99 L987.38 214.30 L987.63 213.64 L987.89 213.00 L988.15 212.39 L988.41 211.80 L988.77 211.24 L989.17 210.69 L989.58 210.16 L989.99 209.63 L990.42 209.10 L990.85 208.58 L991.30 208.04 L991.77 207.50 L992.25 206.95 L992.62 206.41 L992.95 205.87 L993.28 205.32 L993.63 204.78 L993.98 204.24 L994.35 203.69 L994.73 203.13 L995.16 202.57 L995.65 202.00 L996.16 201.42 L996.70 200.82 L997.26 200.22 L997.83 199.61 L998.54 199.00 L999.34 198.39 L1000.15 197.78 L1000.96 197.18 L1001.75 196.58 L1002.47 196.00 L1003.04 195.43 L1003.62 194.85 L1004.20 194.28 L1004.78 193.72 L1005.36 193.16 L1005.92 192.60 L1006.46 192.06 L1007.00 191.53 L1007.53 191.01 L1008.04 190.50 L1008.56 190.01 L1009.10 189.54 L1009.64 189.09 L1010.16 188.65 L1010.67 188.22 L1011.18 187.79 L1011.68 187.36 L1012.21 186.92 L1012.75 186.47 L1013.29 186.00 L1013.82 185.54 L1014.33 185.10 L1014.83 184.66 L1015.32 184.23 L1015.69 183.78 L1016.07 183.31 L1016.46 182.81 L1016.89 182.26 L1017.35 181.66 L1017.85 181.00 L1018.59 180.27 L1019.44 179.47 L1020.35 178.63 L1021.30 177.74 L1022.20 176.81 L1023.07 175.86 L1023.94 174.90 L1024.79 173.93 L1025.48 172.96 L1026.10 172.00 L1026.69 171.04 L1027.26 170.07 L1027.92 169.08 L1028.70 168.09 L1029.47 167.08 L1030.25 166.07 L1031.02 165.05 L1031.72 164.04 L1032.37 163.02 L1033.04 162.00 L1033.73 160.97 L1034.44 159.93 L1035.25 158.88 L1036.07 157.82 L1036.90 156.77 L1037.73 155.72 L1038.40 154.68 L1039.03 153.66 L1039.66 152.67 L1040.28 151.70 L1041.02 150.76 L1041.83 149.84 L1042.63 148.95 L1043.42 148.07 L1044.22 147.20 L1045.02 146.35 L1045.85 145.50 L1046.70 144.66 L1047.58 143.83 L1048.44 143.00 L1049.27 142.18 L1050.13 141.37 L1051.01 140.58 L1051.72 139.79 L1052.38 139.01 L1053.05 138.24 L1053.81 137.46 L1054.86 136.68 L1055.93 135.89 L1057.01 135.10 L1058.04 134.29 L1059.08 133.47 L1060.14 132.63 L1061.32 131.80 L1062.58 130.96 L1063.85 130.13 L1065.04 129.32 L1066.19 128.52 L1067.35 127.75 L1068.48 127.00 L1069.60 126.29 L1070.76 125.62 L1071.85 124.98 L1072.94 124.36 L1074.12 123.74 L1075.49 123.13 L1076.86 122.51 L1077.99 121.87 L1078.94 121.20 L1079.87 120.50 L1081.12 119.73 L1082.44 118.90 L1083.76 118.03 L1084.62 117.13 L1085.42 116.23 L1086.21 115.35 L1087.28 114.52 L1088.34 113.75 L1089.35 113.07 L1090.35 112.50 L1091.32 112.05 L1092.22 111.70 L1093.06 111.43 L1093.78 111.22 L1094.33 111.06 L1094.85 110.93 L1095.37 110.81 L1095.88 110.67 L1096.41 110.51 L1097.04 110.30 L1097.68 110.05 L1098.30 109.79 L1098.93 109.53 L1099.54 109.26 L1100.18 108.98 L1100.81 108.71 L1101.44 108.44 L1102.07 108.18 L1102.70 107.93 L1103.30 107.70 L1103.88 107.47 L1104.51 107.24 L1105.15 107.02 L1105.86 106.80 L1106.59 106.59 L1107.31 106.39 L1107.99 106.21 L1108.59 106.05 L1109.10 105.91 L1109.50 105.80" stroke="#00BA38" stroke-dasharray="0.00 0.00 11.80 10.86 11.80 12.05 11.80 12.05 11.80 12.05 11.80 12.07 11.80 12.07 11.80 12.07 11.80 12.45 11.80 12.45 11.80 12.45 11.80 12.49 11.80 12.49 11.80 12.49 11.80 13.31 11.80 11.50 11.80 17.02 11.80 13.44 11.80 14.19 11.80 13.25 11.80 11.73 11.80 11.91 11.80 11.91 11.80 9999.00"/>
<path class="ln" d="M731.40 457.30 L732.91 457.20 L734.95 457.07 L737.46 456.91 L740.75 456.73 L743.40 456.54 L746.45 456.35 L749.55 456.15 L752.57 455.95 L755.40 455.77 L757.90 455.60 L760.20 455.44 L762.94 455.29 L765.31 455.13 L767.40 454.98 L769.20 454.83 L771.54 454.68 L773.87 454.54 L775.83 454.39 L777.83 454.25 L779.83 454.10 L781.36 453.97 L782.71 453.86 L784.36 453.75 L785.98 453.66 L787.32 453.56 L788.48 453.44 L789.64 453.31 L790.97 453.14 L792.32 452.94 L793.72 452.70 L795.15 452.41 L796.55 452.08 L797.87 451.72 L799.23 451.34 L800.71 450.92 L802.18 450.50 L803.76 450.06 L805.29 449.61 L806.79 449.15 L808.23 448.70 L809.54 448.25 L810.54 447.79 L811.48 447.32 L812.38 446.84 L813.22 446.36 L814.03 445.86 L814.84 445.34 L815.77 444.81 L816.84 444.27 L817.94 443.70 L819.06 443.11 L820.14 442.49 L821.22 441.86 L822.30 441.20 L823.11 440.54 L823.89 439.86 L824.66 439.19 L825.73 438.52 L826.93 437.85 L828.12 437.20 L829.16 436.56 L829.98 435.94 L830.81 435.32 L831.70 434.70 L832.82 434.09 L833.93 433.46 L835.04 432.83 L835.98 432.17 L836.90 431.50 L837.82 430.80 L838.86 430.08 L839.98 429.35 L841.10 428.60 L842.18 427.84 L843.13 427.07 L844.06 426.28 L844.98 425.46 L845.90 424.63 L846.81 423.78 L847.69 422.90 L848.54 421.98 L849.27 421.03 L849.98 420.03 L850.68 419.02 L851.35 417.99 L852.08 416.96 L852.81 415.93 L853.52 414.92 L854.23 413.94 L854.94 413.00 L855.63 412.10 L856.32 411.24 L856.99 410.41 L857.66 409.60 L858.31 408.79 L858.95 407.98 L859.58 407.15 L860.20 406.31 L860.82 405.42 L861.40 404.50 L861.94 403.53 L862.46 402.52 L862.97 401.49 L863.46 400.43 L863.96 399.36 L864.50 398.28 L865.10 397.20 L865.70 396.12 L866.29 395.05 L866.89 394.00 L867.48 392.97 L868.03 391.96 L868.53 390.96 L869.02 389.96 L869.51 388.96 L870.01 387.95 L870.52 386.92 L871.05 385.88 L871.67 384.81 L872.34 383.70 L873.04 382.56 L873.76 381.40 L874.52 380.22 L875.15 379.02 L875.69 377.80 L876.24 376.56 L876.79 375.32 L877.35 374.05 L878.18 372.78 L879.04 371.50 L879.90 370.21 L880.77 368.92 L881.58 367.63 L882.22 366.32 L882.87 364.99 L883.52 363.65 L884.17 362.28 L884.90 360.89 L885.66 359.46 L886.41 358.00 L887.18 356.47 L887.96 354.86 L888.71 353.18 L889.47 351.47 L890.23 349.76 L890.97 348.05 L891.67 346.39 L892.35 344.80 L893.00 343.29 L893.62 341.90 L894.22 340.63 L894.81 339.45 L895.36 338.35 L895.89 337.31 L896.40 336.32 L896.91 335.36 L897.38 334.41 L897.84 333.46 L898.30 332.50 L898.77 331.50 L899.26 330.49 L899.74 329.48 L900.24 328.49 L900.82 327.50 L901.40 326.51 L901.98 325.52 L902.56 324.52 L903.15 323.53 L903.73 322.52 L904.33 321.50 L904.93 320.46 L905.54 319.41 L906.15 318.34 L906.76 317.26 L907.38 316.18 L907.99 315.11 L908.60 314.05 L909.20 313.01 L909.80 311.99 L910.38 311.00 L910.93 310.04 L911.42 309.08 L911.92 308.14 L912.41 307.22 L912.89 306.31 L913.37 305.42 L913.83 304.56 L914.25 303.71 L914.66 302.89 L915.04 302.10 L915.38 301.38 L915.67 300.76 L915.91 300.21 L916.14 299.70 L916.37 299.18 L916.63 298.63 L917.01 298.01 L917.46 297.29 L918.01 296.43 L918.68 295.40 L919.46 294.19 L920.34 292.83 L921.16 291.34 L922.00 289.74 L922.89 288.08 L923.81 286.37 L924.75 284.64 L925.70 282.92 L926.64 281.23 L927.52 279.60 L928.36 277.98 L929.26 276.30 L930.20 274.60 L931.21 272.88 L932.21 271.18 L933.26 269.51 L934.46 267.90 L935.59 266.36 L936.65 264.92 L937.48 263.60 L938.21 262.39 L938.90 261.26 L939.55 260.20 L940.15 259.22 L940.71 258.30 L941.23 257.44 L941.70 256.64 L942.15 255.88 L942.55 255.17 L942.92 254.50 L943.23 253.90 L943.47 253.39 L943.67 252.96 L943.82 252.58 L943.94 252.24 L944.05 251.93 L944.14 251.61 L944.24 251.28 L944.36 250.92 L944.50 250.50 L944.65 250.03 L944.79 249.52 L944.93 248.99 L945.06 248.44 L945.20 247.89 L945.34 247.35 L945.50 246.83 L945.67 246.34 L945.86 245.90 L946.08 245.50 L946.37 245.15 L946.68 244.84 L947.02 244.56 L947.37 244.31 L947.73 244.08 L948.11 243.88 L948.50 243.69 L948.90 243.51 L949.31 243.35 L949.72 243.20 L950.09 243.06 L950.48 242.95 L950.88 242.86 L951.29 242.78 L951.70 242.72 L952.12 242.67 L952.55 242.62 L952.97 242.58 L953.37 242.54 L953.75 242.50 L954.12 242.46 L954.47 242.42 L954.81 242.38 L955.15 242.35 L955.49 242.32 L955.85 242.31 L956.24 242.29 L956.69 242.29 L957.19 242.29 L957.74 242.30 L958.34 242.32 L958.98 242.35 L959.65 242.39 L960.36 242.44 L961.11 242.49 L961.89 242.54 L962.71 242.61 L963.57 242.67 L964.46 242.73 L965.38 242.80 L966.35 242.87 L967.18 242.96 L968.06 243.05 L968.99 243.15 L970.35 243.24 L971.72 243.34 L973.02 243.42 L974.04 243.50 L975.03 243.56 L975.95 243.60 L976.75 243.64 L977.53 243.70 L978.28 243.76 L979.14 243.81 L980.08 243.85 L981.02 243.86 L981.94 243.83 L982.85 243.75 L983.76 243.61 L984.69 243.40 L985.64 243.09 L986.43 242.69 L987.19 242.21 L987.95 241.68 L988.80 241.12 L989.88 240.55 L990.91 239.99 L991.88 239.46 L992.64 238.99 L993.16 238.60 L993.59 238.31 L993.94 238.10 L994.21 237.96 L994.44 237.85 L994.65 237.76 L994.85 237.64 L995.10 237.49 L995.42 237.26 L995.81 236.94 L996.32 236.50 L996.91 235.92 L997.56 235.23 L998.33 234.45 L999.34 233.60 L1000.40 232.70 L1001.50 231.78 L1002.54 230.87 L1003.39 229.99 L1004.25 229.16 L1005.11 228.40 L1005.97 227.71 L1006.86 227.05 L1007.77 226.43 L1008.75 225.82 L1009.84 225.23 L1010.94 224.65 L1012.06 224.07 L1013.21 223.49 L1014.35 222.91 L1015.44 222.30 L1016.28 221.69 L1017.13 221.10 L1018.02 220.52 L1019.26 219.94 L1020.48 219.35 L1021.68 218.75 L1022.71 218.13 L1023.70 217.49 L1024.62 216.81 L1025.38 216.10 L1025.98 215.34 L1026.51 214.55 L1026.97 213.72 L1027.40 212.86 L1027.90 211.99 L1028.49 211.10 L1029.11 210.22 L1029.79 209.33 L1030.57 208.46 L1031.45 207.60 L1032.28 206.76 L1033.18 205.92 L1034.14 205.08 L1035.24 204.24 L1036.42 203.40 L1037.62 202.56 L1038.61 201.72 L1039.54 200.88 L1040.45 200.04 L1041.66 199.20 L1042.88 198.32 L1044.13 197.40 L1045.39 196.45 L1046.67 195.49 L1047.93 194.54 L1049.03 193.63 L1050.09 192.77 L1051.12 191.98 L1051.87 191.28 L1052.54 190.70 L1053.17 190.24 L1053.87 189.90 L1054.75 189.66 L1055.59 189.48 L1056.41 189.36 L1057.19 189.27 L1057.90 189.19 L1058.59 189.10 L1059.27 188.98 L1059.95 188.80 L1060.64 188.60 L1061.37 188.40 L1062.09 188.21 L1062.78 188.02 L1063.46 187.82 L1064.12 187.60 L1064.72 187.37 L1065.30 187.11 L1065.88 186.82 L1066.46 186.50 L1067.04 186.13 L1067.61 185.73 L1068.13 185.30 L1068.66 184.84 L1069.18 184.36 L1069.69 183.87 L1070.21 183.37 L1070.73 182.88 L1071.22 182.38 L1071.71 181.90 L1072.20 181.41 L1072.69 180.89 L1073.18 180.36 L1073.68 179.82 L1074.30 179.29 L1074.93 178.77 L1075.56 178.27 L1076.19 177.80 L1076.82 177.37 L1077.43 177.00 L1077.89 176.68 L1078.33 176.42 L1078.76 176.20 L1079.19 176.02 L1079.63 175.85 L1080.09 175.70 L1080.75 175.55 L1081.45 175.39 L1082.18 175.21 L1082.96 175.00 L1083.81 174.78 L1084.41 174.56 L1085.02 174.35 L1085.66 174.13 L1086.32 173.91 L1087.26 173.67 L1088.17 173.41 L1089.05 173.14 L1089.88 172.83 L1090.71 172.50 L1091.46 172.12 L1092.17 171.70 L1092.83 171.23 L1093.46 170.75 L1093.93 170.25 L1094.35 169.75 L1094.75 169.27 L1095.15 168.80 L1095.54 168.38 L1095.92 168.00 L1096.30 167.66 L1096.70 167.35 L1097.10 167.06 L1097.47 166.79 L1097.85 166.54 L1098.22 166.31 L1098.59 166.09 L1098.98 165.88 L1099.39 165.69 L1099.83 165.50 L1100.30 165.32 L1100.80 165.15 L1101.31 165.00 L1101.84 164.86 L1102.37 164.73 L1102.90 164.62 L1103.39 164.52 L1103.86 164.43 L1104.31 164.36 L1104.76 164.30 L1105.21 164.26 L1105.73 164.25 L1106.28 164.26 L1106.86 164.29 L1107.42 164.32 L1107.96 164.37 L1108.47 164.41 L1108.92 164.45 L1109.30 164.48 L1109.60 164.50" stroke="#619CFF" stroke-dasharray="0.00 0.00 23.60 10.91 23.60 11.09 23.60 12.95 23.60 13.44 23.60 12.45 23.60 12.16 23.60 14.53 23.60 10.80 23.60 10.10 23.60 12.53 23.60 12.82 23.60 12.57 23.60 11.39 23.60 12.14 23.60 9999.00"/>
<rect x="929.30" y="297.07" width="15.00" height="15.00" fill="#619CFF"/>
<rect x="978.30" y="201.23" width="15.00" height="15.00" fill="#619CFF"/>
<rect x="998.22" y="188.16" width="15.00" height="15.00" fill="#619CFF"/>
<rect x="1062.90" y="115.84" width="15.00" height="15.00" fill="#619CFF"/>
<polygon points="966.20,227.44 976.03,244.47 956.36,244.47" fill="#00BA38"/>
<polygon points="976.00,219.16 985.83,236.19 966.16,236.19" fill="#00BA38"/>
<polygon points="989.39,184.74 999.22,201.77 979.56,201.77" fill="#00BA38"/>
<polygon points="995.92,191.71 1005.75,208.74 986.09,208.74" fill="#00BA38"/>
<polygon points="1005.72,189.10 1015.55,206.13 995.89,206.13" fill="#00BA38"/>
<polygon points="1032.02,106.11 1041.85,123.14 1022.19,123.14" fill="#00BA38"/>
<polygon points="1071.06,16.15 1080.89,33.18 1061.23,33.18" fill="#00BA38"/>
<circle cx="878.32" cy="404.77" r="7.50" fill="#F8766D"/>
<circle cx="884.85" cy="387.35" r="7.50" fill="#F8766D"/>
<circle cx="891.39" cy="391.70" r="7.50" fill="#F8766D"/>
<circle cx="910.66" cy="365.56" r="7.50" fill="#F8766D"/>
<circle cx="920.63" cy="363.39" r="7.50" fill="#F8766D"/>
<circle cx="936.80" cy="296.30" r="7.50" fill="#F8766D"/>
<circle cx="1071.06" cy="36.65" r="7.50" fill="#F8766D"/>
<rect x="712.10" y="0.00" width="2.90" height="479.20" fill="#000"/>
<rect x="1125.20" y="0.00" width="3.80" height="479.20" fill="#000"/>
<rect x="712.10" y="0.00" width="416.90" height="2.90" fill="#000"/>
<rect x="712.10" y="475.50" width="416.90" height="3.70" fill="#000"/>
<line x1="703.70" y1="457.05" x2="712.40" y2="457.05" stroke="#111" stroke-width="2.8"/>
<text class="tick" transform="translate(696.15 467.90) scale(1.0 1.03)" text-anchor="end">0</text>
<line x1="703.70" y1="348.14" x2="712.40" y2="348.14" stroke="#111" stroke-width="2.8"/>
<text class="tick" transform="translate(696.15 358.99) scale(1.0 1.03)" text-anchor="end">2500</text>
<line x1="703.70" y1="239.23" x2="712.40" y2="239.23" stroke="#111" stroke-width="2.8"/>
<text class="tick" transform="translate(696.15 250.08) scale(1.0 1.03)" text-anchor="end">5000</text>
<line x1="703.70" y1="130.31" x2="712.40" y2="130.31" stroke="#111" stroke-width="2.8"/>
<text class="tick" transform="translate(696.15 141.71) scale(1.0 1.03)" text-anchor="end">7500</text>
<line x1="703.70" y1="21.40" x2="712.40" y2="21.40" stroke="#111" stroke-width="2.8"/>
<text class="tick" transform="translate(696.15 32.25) scale(1.0 1.03)" text-anchor="end">10000</text>
<line x1="727.40" y1="478.90" x2="727.40" y2="486.60" stroke="#111" stroke-width="2.6"/>
<text class="tick" transform="translate(727.40 515.60) scale(1.0 1.03)" text-anchor="middle">0</text>
<line x1="825.40" y1="478.90" x2="825.40" y2="486.60" stroke="#111" stroke-width="2.6"/>
<text class="tick" transform="translate(825.40 515.60) scale(1.0 1.03)" text-anchor="middle">30</text>
<line x1="923.40" y1="478.90" x2="923.40" y2="486.60" stroke="#111" stroke-width="2.6"/>
<text class="tick" transform="translate(923.40 515.60) scale(1.0 1.03)" text-anchor="middle">60</text>
<line x1="1021.40" y1="478.90" x2="1021.40" y2="486.60" stroke="#111" stroke-width="2.6"/>
<text class="tick" transform="translate(1021.40 515.60) scale(1.0 1.03)" text-anchor="middle">90</text>
<line x1="1119.40" y1="478.90" x2="1119.40" y2="486.60" stroke="#111" stroke-width="2.6"/>
<text class="tick" transform="translate(1119.40 515.60) scale(1.0 1.03)" text-anchor="middle">120</text>
<text class="atitle" transform="translate(920.32 552.90) scale(1.0 1.03)" text-anchor="middle">Days After Sowing</text>
<text class="ptitle" transform="translate(924.92 39.70) scale(1.0 1.02)" text-anchor="middle" xml:space="preserve">B  Experiment 2</text>
<text class="ltitle" x="754.10" y="96.20">Treatment</text>
<rect x="755.20" y="137.30" width="4.5" height="5.0" fill="#00BA38"/>
<circle cx="762.90" cy="119.20" r="7.80" fill="#F8766D"/>
<polygon points="762.90,128.55 772.73,145.58 753.07,145.58" fill="#00BA38"/>
<rect x="755.00" y="152.70" width="15.00" height="15.00" fill="#619CFF"/>
<text class="ltext" x="779.10" y="125.10">2 Days at V4</text>
<text class="ltext" x="779.10" y="145.70">2 Days at R2</text>
<text class="ltext" x="779.10" y="166.80">14 Days at R2</text>
</g>
<g>
<path class="ln" d="M1315.30 457.30 L1316.60 457.23 L1318.23 457.13 L1320.64 457.02 L1323.06 456.90 L1325.42 456.76 L1328.26 456.62 L1330.71 456.48 L1332.91 456.35 L1335.52 456.22 L1338.11 456.10 L1339.76 455.99 L1341.96 455.89 L1344.33 455.79 L1346.79 455.69 L1348.89 455.59 L1350.85 455.49 L1352.64 455.39 L1354.71 455.30 L1356.86 455.20 L1359.11 455.10 L1361.45 455.01 L1363.67 454.92 L1365.78 454.85 L1367.74 454.77 L1369.76 454.69 L1371.84 454.61 L1374.07 454.51 L1376.46 454.40 L1378.90 454.26 L1381.16 454.10 L1383.07 453.91 L1384.99 453.69 L1387.23 453.45 L1389.43 453.19 L1391.95 452.93 L1394.72 452.65 L1396.24 452.38 L1398.32 452.10 L1400.75 451.84 L1402.36 451.60 L1403.97 451.37 L1405.81 451.16 L1407.51 450.96 L1409.04 450.77 L1410.47 450.57 L1411.69 450.37 L1412.87 450.15 L1414.01 449.92 L1415.12 449.68 L1416.28 449.40 L1417.54 449.11 L1418.72 448.80 L1419.83 448.49 L1420.91 448.16 L1421.95 447.82 L1422.98 447.46 L1423.99 447.08 L1425.02 446.68 L1426.08 446.25 L1426.88 445.80 L1427.70 445.33 L1428.54 444.84 L1429.85 444.34 L1431.19 443.81 L1432.46 443.26 L1433.50 442.69 L1434.55 442.09 L1435.65 441.46 L1436.81 440.80 L1437.97 440.10 L1439.21 439.35 L1440.48 438.54 L1441.74 437.69 L1442.70 436.80 L1443.65 435.89 L1444.68 434.97 L1445.82 434.06 L1446.95 433.17 L1448.11 432.31 L1449.26 431.50 L1450.39 430.74 L1451.50 430.01 L1452.59 429.31 L1453.67 428.62 L1454.67 427.95 L1455.63 427.28 L1456.57 426.59 L1457.52 425.89 L1458.49 425.16 L1459.45 424.40 L1460.39 423.60 L1461.31 422.78 L1462.22 421.93 L1463.11 421.07 L1464.01 420.19 L1464.92 419.31 L1465.82 418.43 L1466.70 417.54 L1467.45 416.67 L1468.17 415.80 L1468.87 414.95 L1469.54 414.11 L1470.28 413.28 L1471.03 412.46 L1471.77 411.62 L1472.51 410.78 L1473.23 409.93 L1473.94 409.05 L1474.65 408.14 L1475.38 407.20 L1476.13 406.21 L1476.88 405.17 L1477.64 404.09 L1478.40 402.98 L1479.15 401.87 L1479.94 400.76 L1480.73 399.66 L1481.48 398.59 L1482.20 397.57 L1482.86 396.60 L1483.40 395.69 L1483.88 394.82 L1484.34 393.98 L1484.76 393.18 L1485.17 392.39 L1485.56 391.61 L1485.94 390.84 L1486.27 390.07 L1486.61 389.29 L1486.96 388.50 L1487.32 387.72 L1487.65 386.99 L1487.98 386.28 L1488.30 385.58 L1488.71 384.87 L1489.20 384.13 L1489.72 383.34 L1490.27 382.48 L1490.88 381.54 L1491.54 380.50 L1492.25 379.34 L1492.91 378.06 L1493.63 376.70 L1494.37 375.27 L1495.14 373.80 L1496.05 372.30 L1496.97 370.80 L1497.88 369.32 L1498.76 367.88 L1499.36 366.50 L1499.93 365.16 L1500.51 363.84 L1501.08 362.52 L1501.69 361.22 L1502.33 359.92 L1502.95 358.65 L1503.56 357.38 L1504.14 356.14 L1504.92 354.91 L1505.67 353.70 L1506.37 352.51 L1507.04 351.34 L1507.67 350.19 L1508.25 349.06 L1508.72 347.94 L1509.17 346.84 L1509.62 345.74 L1510.06 344.66 L1510.50 343.58 L1510.95 342.50 L1511.40 341.42 L1511.82 340.32 L1512.24 339.21 L1512.65 338.12 L1513.06 337.04 L1513.46 335.98 L1513.86 334.96 L1514.25 333.98 L1514.65 333.06 L1515.04 332.20 L1515.43 331.41 L1515.81 330.69 L1516.19 330.03 L1516.56 329.42 L1516.94 328.83 L1517.30 328.27 L1517.65 327.72 L1517.97 327.16 L1518.29 326.59 L1518.61 326.00 L1518.92 325.42 L1519.21 324.88 L1519.49 324.36 L1519.76 323.85 L1520.04 323.33 L1520.36 322.79 L1520.78 322.20 L1521.24 321.55 L1521.75 320.82 L1522.33 320.00 L1522.97 319.07 L1523.67 318.03 L1524.33 316.91 L1525.00 315.72 L1525.69 314.50 L1526.39 313.26 L1527.11 312.01 L1527.86 310.79 L1528.59 309.61 L1529.30 308.50 L1530.02 307.43 L1530.60 306.38 L1531.15 305.34 L1531.71 304.32 L1532.26 303.31 L1532.92 302.32 L1533.70 301.34 L1534.46 300.38 L1535.20 299.43 L1535.90 298.50 L1536.57 297.59 L1537.20 296.70 L1537.81 295.83 L1538.40 294.98 L1538.98 294.14 L1539.56 293.31 L1540.14 292.48 L1540.73 291.66 L1541.33 290.83 L1541.94 290.00 L1542.57 289.16 L1543.18 288.32 L1543.78 287.47 L1544.39 286.63 L1545.00 285.79 L1545.60 284.96 L1546.16 284.15 L1546.63 283.35 L1547.09 282.56 L1547.53 281.80 L1547.95 281.06 L1548.35 280.35 L1548.75 279.66 L1549.22 278.99 L1549.69 278.33 L1550.15 277.67 L1550.61 277.01 L1551.07 276.35 L1551.55 275.68 L1552.04 275.00 L1552.56 274.31 L1553.09 273.61 L1553.63 272.91 L1554.17 272.20 L1554.72 271.49 L1555.26 270.79 L1555.73 270.08 L1556.17 269.38 L1556.62 268.69 L1557.05 268.00 L1557.49 267.32 L1557.93 266.63 L1558.41 265.95 L1558.93 265.27 L1559.45 264.59 L1559.96 263.92 L1560.48 263.26 L1560.99 262.60 L1561.48 261.94 L1561.90 261.30 L1562.31 260.66 L1562.72 260.04 L1563.12 259.41 L1563.52 258.80 L1563.92 258.19 L1564.38 257.58 L1564.91 256.98 L1565.44 256.38 L1565.97 255.79 L1566.51 255.20 L1567.05 254.61 L1567.59 254.04 L1568.12 253.46 L1568.65 252.90 L1569.18 252.33 L1569.70 251.77 L1570.23 251.20 L1570.76 250.64 L1571.28 250.07 L1571.74 249.50 L1572.20 248.92 L1572.67 248.34 L1573.15 247.75 L1573.63 247.16 L1574.10 246.57 L1574.56 245.98 L1575.01 245.40 L1575.45 244.82 L1575.88 244.26 L1576.29 243.70 L1576.69 243.15 L1577.08 242.62 L1577.52 242.09 L1577.95 241.56 L1578.37 241.04 L1578.79 240.53 L1579.22 240.02 L1579.66 239.51 L1580.12 239.01 L1580.60 238.50 L1581.12 237.99 L1581.68 237.49 L1582.25 236.98 L1582.84 236.48 L1583.44 235.98 L1584.00 235.49 L1584.45 235.00 L1584.88 234.52 L1585.28 234.06 L1585.65 233.60 L1585.97 233.16 L1586.26 232.73 L1586.52 232.31 L1586.77 231.91 L1587.04 231.51 L1587.30 231.11 L1587.57 230.71 L1587.87 230.31 L1588.20 229.91 L1588.57 229.50 L1588.98 229.09 L1589.42 228.68 L1589.87 228.27 L1590.30 227.86 L1590.75 227.45 L1591.20 227.04 L1591.65 226.61 L1592.11 226.19 L1592.57 225.75 L1593.21 225.30 L1593.84 224.84 L1594.49 224.37 L1595.13 223.89 L1595.78 223.40 L1596.43 222.91 L1596.90 222.42 L1597.34 221.91 L1597.77 221.41 L1598.20 220.91 L1598.62 220.40 L1599.04 219.90 L1599.52 219.40 L1600.03 218.89 L1600.55 218.39 L1601.06 217.88 L1601.57 217.37 L1602.09 216.84 L1602.60 216.31 L1603.12 215.76 L1603.64 215.20 L1604.16 214.62 L1604.69 214.01 L1605.22 213.39 L1605.76 212.76 L1606.18 212.12 L1606.58 211.48 L1606.99 210.84 L1607.39 210.21 L1607.79 209.60 L1608.18 209.00 L1608.74 208.42 L1609.37 207.85 L1609.99 207.28 L1610.61 206.72 L1611.23 206.17 L1611.85 205.62 L1612.45 205.08 L1612.95 204.55 L1613.45 204.02 L1613.96 203.50 L1614.48 202.98 L1615.00 202.47 L1615.52 201.96 L1615.98 201.45 L1616.43 200.96 L1616.88 200.47 L1617.33 199.98 L1617.78 199.51 L1618.22 199.05 L1618.65 198.60 L1619.07 198.16 L1619.49 197.72 L1619.90 197.29 L1620.31 196.87 L1620.72 196.46 L1621.17 196.06 L1621.71 195.67 L1622.26 195.30 L1622.81 194.94 L1623.37 194.60 L1623.93 194.29 L1624.50 194.00 L1624.95 193.74 L1625.40 193.49 L1625.85 193.26 L1626.29 193.02 L1626.73 192.79 L1627.16 192.54 L1627.69 192.28 L1628.21 192.00 L1628.73 191.70 L1629.23 191.38 L1629.72 191.04 L1630.21 190.70 L1630.69 190.36 L1631.09 190.01 L1631.50 189.67 L1631.91 189.33 L1632.31 189.01 L1632.72 188.70 L1633.13 188.39 L1633.53 188.07 L1634.02 187.74 L1634.55 187.41 L1635.07 187.09 L1635.59 186.80 L1636.11 186.53 L1636.62 186.31 L1637.12 186.13 L1637.61 186.00 L1637.93 185.94 L1638.26 185.95 L1638.57 186.01 L1638.89 186.11 L1639.20 186.23 L1639.51 186.37 L1639.82 186.51 L1640.12 186.64 L1640.52 186.74 L1640.93 186.80 L1641.33 186.85 L1641.73 186.92 L1642.11 186.99 L1642.50 187.06 L1642.87 187.12 L1643.25 187.15 L1643.63 187.14 L1643.96 187.09 L1644.27 186.98 L1644.58 186.80 L1644.90 186.54 L1645.23 186.20 L1645.55 185.79 L1645.88 185.34 L1646.21 184.85 L1646.55 184.35 L1646.91 183.84 L1647.28 183.36 L1647.65 182.90 L1648.02 182.50 L1648.38 182.13 L1648.75 181.76 L1649.11 181.40 L1649.47 181.05 L1649.82 180.71 L1650.15 180.39 L1650.48 180.09 L1650.80 179.80 L1651.13 179.54 L1651.45 179.30 L1651.78 179.09 L1652.10 178.91 L1652.42 178.75 L1652.75 178.62 L1653.08 178.50 L1653.42 178.39 L1653.76 178.29 L1654.10 178.20 L1654.44 178.10 L1654.80 178.00 L1655.19 177.90 L1655.61 177.80 L1656.06 177.70 L1656.54 177.61 L1657.00 177.52 L1657.43 177.44 L1657.83 177.37 L1658.18 177.30 L1658.47 177.25 L1658.70 177.20" stroke="#F8766D"/>
<path class="ln" d="M1315.30 457.30 L1316.60 457.23 L1318.23 457.13 L1320.64 457.02 L1323.06 456.90 L1325.42 456.76 L1328.26 456.62 L1330.71 456.48 L1332.91 456.35 L1335.52 456.22 L1338.11 456.10 L1339.76 455.99 L1341.96 455.89 L1344.33 455.79 L1346.79 455.69 L1348.89 455.59 L1350.85 455.49 L1352.64 455.39 L1354.71 455.30 L1356.86 455.20 L1359.11 455.10 L1361.45 455.01 L1363.67 454.92 L1365.78 454.85 L1367.74 454.77 L1369.76 454.69 L1371.84 454.61 L1374.07 454.51 L1376.46 454.40 L1378.90 454.26 L1381.16 454.10 L1383.07 453.91 L1384.99 453.69 L1387.23 453.45 L1389.43 453.19 L1391.95 452.93 L1394.72 452.65 L1396.24 452.38 L1398.32 452.10 L1400.75 451.84 L1402.36 451.60 L1403.97 451.37 L1405.81 451.16 L1407.51 450.96 L1409.04 450.77 L1410.47 450.57 L1411.69 450.37 L1412.87 450.15 L1414.01 449.92 L1415.12 449.68 L1416.28 449.40 L1417.54 449.11 L1418.72 448.80 L1419.83 448.49 L1420.91 448.16 L1421.95 447.82 L1422.98 447.46 L1423.99 447.08 L1425.02 446.68 L1426.08 446.25 L1426.88 445.80 L1427.70 445.33 L1428.54 444.84 L1429.85 444.34 L1431.19 443.81 L1432.46 443.26 L1433.50 442.69 L1434.55 442.09 L1435.65 441.46 L1436.81 440.80 L1437.97 440.10 L1439.23 439.33 L1440.56 438.46 L1441.85 437.53 L1442.86 436.55 L1443.86 435.57 L1444.97 434.60 L1446.12 433.69 L1447.21 432.84 L1448.28 432.11 L1449.26 431.50 L1450.12 431.04 L1450.89 430.70 L1451.57 430.46 L1452.18 430.29 L1452.75 430.17 L1453.29 430.08 L1453.81 429.99 L1454.32 429.88 L1454.82 429.73 L1455.36 429.50 L1455.91 429.24 L1456.44 428.99 L1456.96 428.74 L1457.50 428.49 L1458.05 428.21 L1458.61 427.89 L1459.20 427.54 L1459.81 427.13 L1460.47 426.65 L1461.18 426.10 L1461.94 425.46 L1462.77 424.73 L1463.65 423.93 L1464.61 423.07 L1465.59 422.18 L1466.57 421.25 L1467.45 420.32 L1468.26 419.39 L1469.05 418.48 L1469.82 417.60 L1470.65 416.75 L1471.45 415.92 L1472.23 415.09 L1472.99 414.27 L1473.71 413.44 L1474.43 412.60 L1475.16 411.74 L1475.90 410.86 L1476.64 409.95 L1477.40 409.00 L1478.19 408.00 L1479.03 406.96 L1479.92 405.87 L1480.87 404.76 L1481.82 403.63 L1482.76 402.51 L1483.57 401.40 L1484.34 400.32 L1485.06 399.28 L1485.72 398.30 L1486.26 397.37 L1486.73 396.47 L1487.17 395.61 L1487.57 394.77 L1487.96 393.95 L1488.33 393.15 L1488.80 392.36 L1489.32 391.57 L1489.84 390.79 L1490.38 390.00 L1490.92 389.23 L1491.45 388.48 L1491.97 387.75 L1492.42 387.04 L1492.85 386.32 L1493.27 385.61 L1493.70 384.87 L1494.14 384.12 L1494.58 383.33 L1495.03 382.50 L1495.56 381.63 L1496.12 380.72 L1496.69 379.78 L1497.26 378.82 L1497.84 377.84 L1498.43 376.86 L1498.95 375.88 L1499.35 374.90 L1499.76 373.94 L1500.16 373.00 L1500.56 372.08 L1500.96 371.16 L1501.37 370.25 L1501.83 369.34 L1502.29 368.44 L1502.74 367.54 L1503.19 366.65 L1503.64 365.76 L1504.08 364.88 L1504.65 364.00 L1505.25 363.13 L1505.85 362.28 L1506.43 361.43 L1507.01 360.59 L1507.58 359.75 L1508.15 358.91 L1508.61 358.07 L1509.05 357.22 L1509.49 356.37 L1509.93 355.50 L1510.36 354.62 L1510.77 353.73 L1511.17 352.84 L1511.56 351.94 L1511.94 351.03 L1512.31 350.12 L1512.69 349.22 L1513.07 348.31 L1513.47 347.40 L1513.87 346.50 L1514.28 345.61 L1514.70 344.72 L1515.13 343.85 L1515.56 342.97 L1515.99 342.09 L1516.43 341.21 L1516.88 340.31 L1517.34 339.40 L1517.77 338.46 L1518.18 337.50 L1518.61 336.51 L1519.03 335.51 L1519.46 334.48 L1519.90 333.44 L1520.39 332.39 L1521.00 331.32 L1521.63 330.25 L1522.27 329.17 L1522.93 328.09 L1523.60 327.00 L1524.23 325.91 L1524.83 324.80 L1525.45 323.68 L1526.07 322.55 L1526.71 321.42 L1527.37 320.28 L1528.05 319.15 L1528.73 318.03 L1529.42 316.91 L1530.12 315.80 L1530.65 314.71 L1531.18 313.62 L1531.72 312.54 L1532.26 311.47 L1532.92 310.40 L1533.72 309.33 L1534.51 308.26 L1535.30 307.18 L1536.09 306.09 L1536.86 305.00 L1537.65 303.87 L1538.46 302.68 L1539.30 301.47 L1540.16 300.24 L1541.01 299.03 L1541.84 297.84 L1542.64 296.70 L1543.35 295.64 L1544.00 294.66 L1544.57 293.80 L1545.04 293.09 L1545.40 292.54 L1545.68 292.10 L1545.91 291.74 L1546.11 291.42 L1546.28 291.10 L1546.49 290.73 L1546.75 290.29 L1547.09 289.72 L1547.53 289.00 L1548.08 288.12 L1548.70 287.12 L1549.56 286.03 L1550.49 284.86 L1551.46 283.64 L1552.48 282.39 L1553.53 281.12 L1554.57 279.88 L1555.56 278.66 L1556.36 277.50 L1557.15 276.36 L1557.96 275.19 L1558.91 274.01 L1559.89 272.82 L1560.87 271.66 L1561.75 270.52 L1562.52 269.42 L1563.25 268.37 L1563.93 267.40 L1564.69 266.50 L1565.40 265.72 L1566.00 265.06 L1566.51 264.49 L1566.96 263.98 L1567.39 263.50 L1567.81 263.02 L1568.26 262.51 L1568.76 261.94 L1569.36 261.28 L1570.07 260.50 L1570.90 259.60 L1571.73 258.60 L1572.58 257.52 L1573.49 256.39 L1574.41 255.22 L1575.33 254.03 L1576.25 252.85 L1577.20 251.68 L1578.27 250.56 L1579.30 249.50 L1580.30 248.49 L1581.31 247.50 L1582.33 246.53 L1583.34 245.58 L1584.26 244.64 L1585.04 243.71 L1585.82 242.78 L1586.60 241.86 L1587.48 240.93 L1588.37 240.00 L1589.25 239.06 L1590.09 238.13 L1590.87 237.19 L1591.65 236.26 L1592.42 235.32 L1593.47 234.40 L1594.58 233.48 L1595.68 232.58 L1596.71 231.68 L1597.44 230.80 L1598.17 229.93 L1598.90 229.09 L1599.74 228.25 L1600.65 227.42 L1601.56 226.61 L1602.46 225.79 L1603.36 224.98 L1604.25 224.16 L1605.14 223.33 L1605.98 222.50 L1606.66 221.65 L1607.35 220.78 L1608.04 219.90 L1609.00 219.02 L1610.12 218.14 L1611.23 217.27 L1612.32 216.41 L1613.17 215.58 L1613.99 214.77 L1614.78 214.00 L1615.54 213.26 L1616.17 212.53 L1616.78 211.82 L1617.38 211.14 L1617.95 210.47 L1618.50 209.82 L1619.03 209.20 L1619.54 208.61 L1620.03 208.04 L1620.51 207.50 L1620.97 207.00 L1621.52 206.53 L1622.05 206.09 L1622.56 205.68 L1623.06 205.29 L1623.55 204.92 L1624.04 204.56 L1624.54 204.21 L1624.93 203.86 L1625.35 203.50 L1625.78 203.15 L1626.23 202.80 L1626.69 202.47 L1627.15 202.14 L1627.72 201.83 L1628.32 201.51 L1628.91 201.21 L1629.49 200.90 L1630.07 200.60 L1630.62 200.30 L1631.10 200.00 L1631.55 199.71 L1631.99 199.41 L1632.43 199.13 L1632.86 198.84 L1633.29 198.56 L1633.74 198.29 L1634.32 198.02 L1634.91 197.76 L1635.52 197.50 L1636.14 197.25 L1636.78 197.00 L1637.43 196.75 L1637.92 196.51 L1638.36 196.28 L1638.80 196.05 L1639.24 195.82 L1639.68 195.61 L1640.12 195.40 L1640.71 195.20 L1641.30 195.02 L1641.89 194.86 L1642.47 194.72 L1643.05 194.58 L1643.64 194.45 L1644.13 194.31 L1644.60 194.17 L1645.08 194.00 L1645.55 193.82 L1646.04 193.60 L1646.54 193.35 L1647.11 193.07 L1647.70 192.76 L1648.30 192.44 L1648.90 192.11 L1649.49 191.77 L1650.04 191.43 L1650.54 191.11 L1651.01 190.79 L1651.45 190.50 L1651.85 190.22 L1652.21 189.94 L1652.55 189.66 L1652.86 189.39 L1653.17 189.12 L1653.48 188.87 L1653.78 188.63 L1654.10 188.40 L1654.43 188.19 L1654.79 188.00 L1655.20 187.83 L1655.66 187.67 L1656.18 187.53 L1656.72 187.41 L1657.24 187.29 L1657.74 187.19 L1658.20 187.11 L1658.61 187.03 L1658.94 186.96 L1659.20 186.90" stroke="#00BA38" stroke-dasharray="0.00 0.00 11.80 11.44 11.80 12.06 11.80 12.06 11.80 12.06 11.80 11.89 11.80 11.89 11.80 11.13 11.80 12.77 11.80 12.71 11.80 12.27 11.80 12.88 11.80 12.88 11.80 12.88 11.80 12.03 11.80 11.78 11.80 11.78 11.80 14.45 11.80 12.45 11.80 12.45 11.80 9999.00"/>
<path class="ln" d="M1315.30 457.30 L1316.60 457.23 L1318.23 457.13 L1320.64 457.02 L1323.06 456.90 L1325.42 456.76 L1328.26 456.62 L1330.71 456.48 L1332.91 456.35 L1335.52 456.22 L1338.11 456.10 L1339.76 455.99 L1341.96 455.89 L1344.33 455.79 L1346.79 455.69 L1348.89 455.59 L1350.85 455.49 L1352.64 455.39 L1354.71 455.30 L1356.86 455.20 L1359.11 455.10 L1361.45 455.01 L1363.67 454.92 L1365.78 454.85 L1367.74 454.77 L1369.76 454.69 L1371.84 454.61 L1374.07 454.51 L1376.46 454.40 L1378.90 454.26 L1381.16 454.10 L1383.07 453.91 L1384.99 453.69 L1387.23 453.45 L1389.43 453.19 L1391.95 452.93 L1394.72 452.65 L1396.24 452.38 L1398.32 452.10 L1400.75 451.84 L1402.36 451.60 L1403.97 451.37 L1405.81 451.16 L1407.51 450.96 L1409.04 450.77 L1410.47 450.57 L1411.69 450.37 L1412.87 450.15 L1414.01 449.92 L1415.12 449.68 L1416.28 449.40 L1417.54 449.11 L1418.72 448.80 L1419.83 448.49 L1420.91 448.16 L1421.95 447.82 L1422.98 447.46 L1423.99 447.08 L1425.02 446.68 L1426.08 446.25 L1426.88 445.80 L1427.70 445.33 L1428.54 444.84 L1429.85 444.34 L1431.19 443.81 L1432.46 443.26 L1433.50 442.69 L1434.55 442.09 L1435.65 441.46 L1436.81 440.80 L1437.97 440.10 L1439.21 439.35 L1440.48 438.54 L1441.74 437.69 L1442.70 436.80 L1443.65 435.89 L1444.68 434.97 L1445.82 434.06 L1446.95 433.17 L1448.11 432.31 L1449.26 431.50 L1450.39 430.74 L1451.50 430.01 L1452.59 429.31 L1453.67 428.62 L1454.67 427.95 L1455.63 427.28 L1456.57 426.59 L1457.52 425.89 L1458.49 425.16 L1459.45 424.40 L1460.39 423.60 L1461.31 422.78 L1462.22 421.93 L1463.11 421.07 L1464.01 420.19 L1464.92 419.31 L1465.82 418.43 L1466.70 417.54 L1467.45 416.67 L1468.17 415.80 L1468.87 414.95 L1469.54 414.11 L1470.28 413.28 L1471.03 412.46 L1471.77 411.62 L1472.51 410.78 L1473.23 409.93 L1473.94 409.05 L1474.65 408.14 L1475.38 407.20 L1476.13 406.21 L1476.88 405.17 L1477.64 404.09 L1478.40 402.98 L1479.15 401.87 L1479.94 400.76 L1480.73 399.66 L1481.48 398.59 L1482.20 397.57 L1482.86 396.60 L1483.40 395.69 L1483.88 394.82 L1484.34 393.98 L1484.76 393.18 L1485.17 392.39 L1485.56 391.61 L1485.94 390.84 L1486.27 390.07 L1486.61 389.29 L1486.96 388.50 L1487.32 387.72 L1487.65 386.99 L1487.98 386.28 L1488.30 385.58 L1488.71 384.86 L1489.20 384.12 L1489.72 383.33 L1490.27 382.48 L1490.88 381.54 L1491.54 380.50 L1492.25 379.34 L1492.91 378.08 L1493.63 376.72 L1494.37 375.30 L1495.14 373.84 L1496.05 372.35 L1496.97 370.86 L1497.88 369.39 L1498.76 367.96 L1499.36 366.60 L1499.93 365.27 L1500.50 363.94 L1501.07 362.61 L1501.68 361.29 L1502.31 359.99 L1502.93 358.72 L1503.54 357.47 L1504.12 356.27 L1504.90 355.11 L1505.67 354.00 L1506.39 352.95 L1507.07 351.96 L1507.72 351.02 L1508.31 350.12 L1508.79 349.24 L1509.27 348.39 L1509.75 347.55 L1510.24 346.71 L1510.74 345.86 L1511.25 345.00 L1511.77 344.13 L1512.27 343.28 L1512.79 342.44 L1513.30 341.61 L1513.82 340.78 L1514.35 339.95 L1514.88 339.11 L1515.42 338.26 L1515.96 337.39 L1516.51 336.50 L1517.06 335.60 L1517.60 334.69 L1518.08 333.78 L1518.56 332.85 L1519.05 331.92 L1519.54 330.97 L1520.04 330.01 L1520.66 329.02 L1521.37 328.02 L1522.09 327.00 L1522.84 325.95 L1523.60 324.86 L1524.30 323.75 L1524.97 322.62 L1525.65 321.48 L1526.33 320.33 L1527.02 319.18 L1527.75 318.04 L1528.47 316.91 L1529.20 315.80 L1529.94 314.71 L1530.55 313.62 L1531.11 312.54 L1531.67 311.47 L1532.23 310.40 L1532.91 309.33 L1533.74 308.26 L1534.57 307.18 L1535.40 306.09 L1536.23 305.00 L1537.06 303.87 L1537.94 302.68 L1538.85 301.47 L1539.77 300.24 L1540.70 299.03 L1541.61 297.84 L1542.48 296.70 L1543.26 295.64 L1543.96 294.66 L1544.57 293.80 L1545.07 293.09 L1545.44 292.54 L1545.73 292.10 L1545.96 291.74 L1546.14 291.42 L1546.31 291.10 L1546.50 290.73 L1546.76 290.29 L1547.09 289.72 L1547.53 289.00 L1548.08 288.12 L1548.70 287.12 L1549.56 286.03 L1550.49 284.86 L1551.46 283.64 L1552.48 282.39 L1553.53 281.12 L1554.57 279.88 L1555.56 278.66 L1556.36 277.50 L1557.15 276.36 L1557.96 275.19 L1558.91 274.01 L1559.89 272.82 L1560.87 271.66 L1561.75 270.52 L1562.52 269.42 L1563.25 268.37 L1563.93 267.40 L1564.69 266.50 L1565.40 265.72 L1566.00 265.06 L1566.51 264.49 L1566.96 263.98 L1567.39 263.50 L1567.81 263.02 L1568.26 262.51 L1568.76 261.94 L1569.36 261.28 L1570.07 260.50 L1570.90 259.60 L1571.73 258.60 L1572.58 257.52 L1573.49 256.39 L1574.41 255.22 L1575.33 254.03 L1576.25 252.85 L1577.20 251.68 L1578.27 250.56 L1579.30 249.50 L1580.30 248.49 L1581.31 247.50 L1582.33 246.53 L1583.34 245.58 L1584.26 244.64 L1585.04 243.71 L1585.82 242.78 L1586.60 241.86 L1587.48 240.93 L1588.37 240.00 L1589.25 239.06 L1590.09 238.13 L1590.87 237.19 L1591.65 236.26 L1592.42 235.32 L1593.47 234.40 L1594.58 233.48 L1595.68 232.58 L1596.71 231.68 L1597.44 230.80 L1598.17 229.93 L1598.90 229.09 L1599.74 228.25 L1600.65 227.42 L1601.56 226.61 L1602.46 225.79 L1603.36 224.98 L1604.25 224.16 L1605.14 223.33 L1605.98 222.50 L1606.66 221.65 L1607.35 220.78 L1608.04 219.90 L1609.00 219.02 L1610.12 218.14 L1611.23 217.27 L1612.32 216.41 L1613.17 215.58 L1613.99 214.77 L1614.78 214.00 L1615.54 213.26 L1616.17 212.53 L1616.78 211.82 L1617.38 211.14 L1617.95 210.47 L1618.50 209.82 L1619.03 209.20 L1619.54 208.61 L1620.03 208.04 L1620.51 207.50 L1620.97 207.00 L1621.52 206.53 L1622.05 206.09 L1622.56 205.68 L1623.06 205.29 L1623.55 204.92 L1624.04 204.56 L1624.54 204.21 L1624.93 203.86 L1625.35 203.50 L1625.78 203.15 L1626.23 202.80 L1626.69 202.47 L1627.15 202.14 L1627.72 201.83 L1628.32 201.51 L1628.91 201.21 L1629.49 200.90 L1630.07 200.60 L1630.62 200.30 L1631.10 200.00 L1631.55 199.71 L1631.99 199.41 L1632.43 199.13 L1632.86 198.84 L1633.29 198.56 L1633.74 198.29 L1634.32 198.02 L1634.91 197.76 L1635.52 197.50 L1636.14 197.25 L1636.78 197.00 L1637.43 196.75 L1637.92 196.51 L1638.36 196.28 L1638.80 196.05 L1639.24 195.82 L1639.68 195.61 L1640.12 195.40 L1640.71 195.20 L1641.30 195.02 L1641.89 194.86 L1642.47 194.72 L1643.05 194.58 L1643.64 194.45 L1644.13 194.31 L1644.60 194.17 L1645.08 194.00 L1645.55 193.82 L1646.04 193.60 L1646.54 193.35 L1647.11 193.07 L1647.70 192.76 L1648.30 192.44 L1648.90 192.11 L1649.49 191.77 L1650.04 191.43 L1650.54 191.11 L1651.01 190.79 L1651.45 190.50 L1651.85 190.22 L1652.21 189.94 L1652.55 189.66 L1652.86 189.39 L1653.17 189.12 L1653.48 188.87 L1653.78 188.63 L1654.10 188.40 L1654.43 188.19 L1654.79 188.00 L1655.20 187.83 L1655.66 187.67 L1656.18 187.53 L1656.72 187.41 L1657.24 187.29 L1657.74 187.19 L1658.20 187.11 L1658.61 187.03 L1658.94 186.96 L1659.20 186.90" stroke="#619CFF" stroke-dasharray="0.00 0.00 23.60 11.56 23.60 12.06 23.60 12.71 23.60 9.31 23.60 11.96 23.60 13.24 23.60 9.66 23.60 12.68 23.60 10.72 23.60 12.71 23.60 14.38 23.60 10.35 23.60 11.80 23.60 9999.00"/>
<rect x="1389.81" y="440.31" width="15.00" height="15.00" fill="#619CFF"/>
<rect x="1437.15" y="438.22" width="15.00" height="15.00" fill="#619CFF"/>
<rect x="1484.49" y="436.26" width="15.00" height="15.00" fill="#619CFF"/>
<rect x="1531.83" y="357.71" width="15.00" height="15.00" fill="#619CFF"/>
<rect x="1579.33" y="357.71" width="15.00" height="15.00" fill="#619CFF"/>
<rect x="1626.51" y="274.59" width="15.00" height="15.00" fill="#619CFF"/>
<polygon points="1397.31,436.98 1407.14,454.01 1387.48,454.01" fill="#00BA38"/>
<polygon points="1444.97,435.02 1454.80,452.05 1435.14,452.05" fill="#00BA38"/>
<polygon points="1492.31,432.63 1502.14,449.66 1482.48,449.66" fill="#00BA38"/>
<polygon points="1539.65,393.51 1549.48,410.54 1529.82,410.54" fill="#00BA38"/>
<polygon points="1634.33,197.55 1644.16,214.58 1624.50,214.58" fill="#00BA38"/>
<circle cx="1397.31" cy="448.12" r="7.50" fill="#F8766D"/>
<circle cx="1444.97" cy="435.40" r="7.50" fill="#F8766D"/>
<circle cx="1492.31" cy="413.62" r="7.50" fill="#F8766D"/>
<circle cx="1539.65" cy="370.14" r="7.50" fill="#F8766D"/>
<circle cx="1586.99" cy="283.01" r="7.50" fill="#F8766D"/>
<circle cx="1634.33" cy="152.40" r="7.50" fill="#F8766D"/>
<rect x="1292.90" y="0.00" width="3.10" height="479.20" fill="#000"/>
<rect x="1707.10" y="0.00" width="3.90" height="479.20" fill="#000"/>
<rect x="1292.90" y="0.00" width="418.10" height="2.90" fill="#000"/>
<rect x="1292.90" y="475.50" width="418.10" height="3.70" fill="#000"/>
<line x1="1284.80" y1="457.05" x2="1293.20" y2="457.05" stroke="#111" stroke-width="2.8"/>
<text class="tick" transform="translate(1278.20 467.90) scale(1.0 1.03)" text-anchor="end">0</text>
<line x1="1284.80" y1="348.14" x2="1293.20" y2="348.14" stroke="#111" stroke-width="2.8"/>
<text class="tick" transform="translate(1278.20 358.99) scale(1.0 1.03)" text-anchor="end">2500</text>
<line x1="1284.80" y1="239.23" x2="1293.20" y2="239.23" stroke="#111" stroke-width="2.8"/>
<text class="tick" transform="translate(1278.20 250.08) scale(1.0 1.03)" text-anchor="end">5000</text>
<line x1="1284.80" y1="130.31" x2="1293.20" y2="130.31" stroke="#111" stroke-width="2.8"/>
<text class="tick" transform="translate(1278.20 141.71) scale(1.0 1.03)" text-anchor="end">7500</text>
<line x1="1284.80" y1="21.40" x2="1293.20" y2="21.40" stroke="#111" stroke-width="2.8"/>
<text class="tick" transform="translate(1278.20 32.25) scale(1.0 1.03)" text-anchor="end">10000</text>
<line x1="1312.10" y1="478.90" x2="1312.10" y2="486.60" stroke="#111" stroke-width="2.6"/>
<text class="tick" transform="translate(1312.10 515.60) scale(1.0 1.03)" text-anchor="middle">0</text>
<line x1="1406.78" y1="478.90" x2="1406.78" y2="486.60" stroke="#111" stroke-width="2.6"/>
<text class="tick" transform="translate(1406.78 515.60) scale(1.0 1.03)" text-anchor="middle">30</text>
<line x1="1501.46" y1="478.90" x2="1501.46" y2="486.60" stroke="#111" stroke-width="2.6"/>
<text class="tick" transform="translate(1501.46 515.60) scale(1.0 1.03)" text-anchor="middle">60</text>
<line x1="1596.14" y1="478.90" x2="1596.14" y2="486.60" stroke="#111" stroke-width="2.6"/>
<text class="tick" transform="translate(1596.14 515.60) scale(1.0 1.03)" text-anchor="middle">90</text>
<line x1="1690.82" y1="478.90" x2="1690.82" y2="486.60" stroke="#111" stroke-width="2.6"/>
<text class="tick" transform="translate(1690.82 515.60) scale(1.0 1.03)" text-anchor="middle">120</text>
<text class="atitle" transform="translate(1501.75 552.90) scale(1.0 1.03)" text-anchor="middle">Days After Sowing</text>
<text class="ptitle" transform="translate(1506.35 39.70) scale(1.0 1.02)" text-anchor="middle" xml:space="preserve">C  Experiment 3</text>
<text class="ltitle" x="1337.00" y="96.20">Treatment</text>
<rect x="1337.20" y="137.30" width="4.5" height="5.0" fill="#00BA38"/>
<circle cx="1344.90" cy="119.20" r="7.80" fill="#F8766D"/>
<polygon points="1344.90,128.55 1354.73,145.58 1335.07,145.58" fill="#00BA38"/>
<rect x="1337.00" y="152.70" width="15.00" height="15.00" fill="#619CFF"/>
<text class="ltext" x="1362.00" y="125.10" letter-spacing="0">Control</text>
<text class="ltext" x="1362.00" y="145.70">7 Days at V4</text>
<text class="ltext" x="1362.00" y="166.80">7 Days at R2</text>
</g>
<g class="atitle" transform="translate(32.7 0) rotate(-90)"><text x="-364.2" y="0" letter-spacing="-0.3">Biomass</text><text font-family="Liberation Serif, serif" font-size="39" stroke="none" transform="translate(-238.1 -0.6) scale(1.12 1)">(</text><text x="-224.6" y="0">kg ha</text><text x="-149.6" y="-14.6" font-size="21">−</text><text x="-137.4" y="-17.0" font-size="22">1</text><text font-family="Liberation Serif, serif" font-size="39" stroke="none" transform="translate(-127.0 -0.6) scale(1.12 1)">)</text></g>
</svg></body></html>
